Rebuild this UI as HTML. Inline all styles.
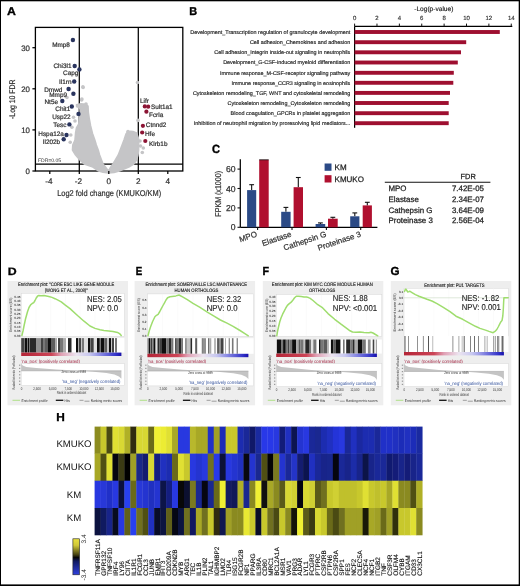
<!DOCTYPE html>
<html><head><meta charset="utf-8"><style>
html,body{margin:0;padding:0;background:#fff;}
body{width:520px;height:586px;overflow:hidden;}
svg{display:block;will-change:transform;text-rendering:geometricPrecision;}
text{font-family:"Liberation Sans", sans-serif;}
</style></head><body>
<svg xmlns="http://www.w3.org/2000/svg" width="520" height="586" viewBox="0 0 520 586">
<rect x="0" y="0" width="520" height="586" fill="#fff"/>
<text x="0" y="0" font-size="11.26" font-weight="bold" fill="#000" stroke="#000" stroke-width="0.32" transform="translate(7.07 14.72) scale(1.093 1)">A</text>
<rect x="35.4" y="27.4" width="147.4" height="143.6" fill="none" stroke="#000" stroke-width="1.3"/>
<line x1="79.30" y1="27.40" x2="79.30" y2="171.00" stroke="#000" stroke-width="1.25"/>
<line x1="138.30" y1="27.40" x2="138.30" y2="171.00" stroke="#000" stroke-width="1.25"/>
<line x1="35.40" y1="164.20" x2="182.80" y2="164.20" stroke="#000" stroke-width="1.25"/>
<path d="M76.50 104.80 L80.00 109.00 L80.40 114.00 L79.50 119.00 L78.80 124.00 L76.50 128.00 L75.60 133.00 L75.00 140.00 L72.80 145.00 L72.50 150.00 L75.60 155.00 L79.90 160.00 L84.20 164.00 L92.90 167.00 L98.70 171.00 L103.00 172.30 L108.50 173.00 L114.00 172.50 L119.20 171.00 L128.80 167.00 L133.70 164.00 L136.50 160.00 L138.00 155.00 L138.60 150.00 L138.60 145.00 L138.80 140.00 L138.00 137.00 L136.50 133.00 L133.00 131.50 L130.80 131.30 L127.50 132.00 L126.00 134.00 L125.00 137.00 L124.00 140.00 L122.10 145.00 L120.20 150.00 L118.30 155.00 L115.40 160.00 L113.00 164.00 L110.80 167.00 L109.20 170.00 L107.60 170.00 L105.40 167.00 L103.00 164.00 L101.50 160.00 L99.60 155.00 L98.20 150.00 L96.30 145.00 L94.80 140.00 L92.50 133.50 L90.60 126.00 L89.30 119.00 L88.30 112.00 L88.00 106.00 L86.00 104.30 L81.00 103.80 Z" fill="#c5c5c7" stroke="#c5c5c7" stroke-width="1.6" stroke-linejoin="round"/>
<circle cx="73.50" cy="117.30" r="1.8" fill="#c5c5c7"/>
<circle cx="75.00" cy="121.00" r="1.8" fill="#c5c5c7"/>
<circle cx="71.90" cy="127.30" r="1.8" fill="#c5c5c7"/>
<circle cx="70.20" cy="142.20" r="1.8" fill="#c5c5c7"/>
<circle cx="70.80" cy="135.00" r="1.8" fill="#c5c5c7"/>
<circle cx="137.50" cy="82.50" r="1.8" fill="#c5c5c7"/>
<circle cx="83.10" cy="87.50" r="1.8" fill="#c5c5c7"/>
<circle cx="81.60" cy="100.00" r="1.8" fill="#c5c5c7"/>
<circle cx="138.00" cy="120.40" r="1.8" fill="#c5c5c7"/>
<circle cx="140.50" cy="146.00" r="1.8" fill="#c5c5c7"/>
<circle cx="143.30" cy="148.00" r="1.8" fill="#c5c5c7"/>
<circle cx="142.30" cy="152.50" r="1.8" fill="#c5c5c7"/>
<circle cx="67.00" cy="97.50" r="1.8" fill="#c5c5c7"/>
<circle cx="81.90" cy="99.00" r="1.8" fill="#c5c5c7"/>
<circle cx="82.90" cy="86.90" r="1.8" fill="#c5c5c7"/>
<circle cx="128.00" cy="131.50" r="1.8" fill="#c5c5c7"/>
<circle cx="135.00" cy="134.00" r="1.8" fill="#c5c5c7"/>
<circle cx="77.50" cy="106.00" r="1.8" fill="#c5c5c7"/>
<circle cx="86.00" cy="104.00" r="1.8" fill="#c5c5c7"/>
<circle cx="74.00" cy="146.00" r="1.8" fill="#c5c5c7"/>
<circle cx="140.00" cy="141.00" r="1.8" fill="#c5c5c7"/>
<line x1="32.40" y1="171.00" x2="35.40" y2="171.00" stroke="#000" stroke-width="1.25"/>
<text x="30.00" y="173.84" font-size="7.9" text-anchor="end" fill="#333" font-weight="normal" stroke="#333" stroke-width="0.22">0</text>
<line x1="32.40" y1="129.90" x2="35.40" y2="129.90" stroke="#000" stroke-width="1.25"/>
<text x="30.00" y="132.74" font-size="7.9" text-anchor="end" fill="#333" font-weight="normal" stroke="#333" stroke-width="0.22">10</text>
<line x1="32.40" y1="88.80" x2="35.40" y2="88.80" stroke="#000" stroke-width="1.25"/>
<text x="30.00" y="91.64" font-size="7.9" text-anchor="end" fill="#333" font-weight="normal" stroke="#333" stroke-width="0.22">20</text>
<line x1="32.40" y1="47.70" x2="35.40" y2="47.70" stroke="#000" stroke-width="1.25"/>
<text x="30.00" y="50.54" font-size="7.9" text-anchor="end" fill="#333" font-weight="normal" stroke="#333" stroke-width="0.22">30</text>
<line x1="49.80" y1="171.00" x2="49.80" y2="174.00" stroke="#000" stroke-width="1.25"/>
<text x="49.00" y="184.35" font-size="8.2" text-anchor="middle" fill="#333" font-weight="normal" stroke="#333" stroke-width="0.22">-4</text>
<line x1="79.30" y1="171.00" x2="79.30" y2="174.00" stroke="#000" stroke-width="1.25"/>
<text x="78.50" y="184.35" font-size="8.2" text-anchor="middle" fill="#333" font-weight="normal" stroke="#333" stroke-width="0.22">-2</text>
<line x1="108.80" y1="171.00" x2="108.80" y2="174.00" stroke="#000" stroke-width="1.25"/>
<text x="108.80" y="184.35" font-size="8.2" text-anchor="middle" fill="#333" font-weight="normal" stroke="#333" stroke-width="0.22">0</text>
<line x1="138.30" y1="171.00" x2="138.30" y2="174.00" stroke="#000" stroke-width="1.25"/>
<text x="138.30" y="184.35" font-size="8.2" text-anchor="middle" fill="#333" font-weight="normal" stroke="#333" stroke-width="0.22">2</text>
<line x1="167.80" y1="171.00" x2="167.80" y2="174.00" stroke="#000" stroke-width="1.25"/>
<text x="167.80" y="184.35" font-size="8.2" text-anchor="middle" fill="#333" font-weight="normal" stroke="#333" stroke-width="0.22">4</text>
<text x="109.2" y="196.3" font-size="8.4" text-anchor="middle" fill="#333" stroke="#333" stroke-width="0.22" textLength="104" lengthAdjust="spacingAndGlyphs">Log2 fold change (KMUKO/KM)</text>
<text x="14.9" y="99.2" font-size="8.2" text-anchor="middle" fill="#333" stroke="#333" stroke-width="0.22" textLength="39.5" lengthAdjust="spacingAndGlyphs" transform="rotate(-90 14.9 99.2)">-Log 10 FDR</text>
<text x="37.9" y="162.0" font-size="5.0" fill="#333" textLength="23.3" lengthAdjust="spacingAndGlyphs">FDR=0.05</text>
<circle cx="72.90" cy="40.00" r="2.2" fill="#29345e"/>
<text x="69.90" y="46.60" font-size="6.4" text-anchor="end" fill="#333" font-weight="normal" stroke="#333" stroke-width="0.22">Mmp8</text>
<circle cx="74.70" cy="66.00" r="2.2" fill="#29345e"/>
<text x="71.50" y="67.70" font-size="6.4" text-anchor="end" fill="#333" font-weight="normal" stroke="#333" stroke-width="0.22">Chi3l1</text>
<circle cx="79.40" cy="69.40" r="2.2" fill="#29345e"/>
<text x="78.40" y="75.20" font-size="6.4" text-anchor="end" fill="#333" font-weight="normal" stroke="#333" stroke-width="0.22">Capg</text>
<circle cx="74.20" cy="81.50" r="2.2" fill="#29345e"/>
<text x="71.50" y="83.60" font-size="6.4" text-anchor="end" fill="#333" font-weight="normal" stroke="#333" stroke-width="0.22">Il1rn</text>
<circle cx="68.60" cy="89.00" r="2.2" fill="#29345e"/>
<text x="62.30" y="92.00" font-size="6.4" text-anchor="end" fill="#333" font-weight="normal" stroke="#333" stroke-width="0.22">Dmwd</text>
<circle cx="73.40" cy="93.80" r="2.2" fill="#29345e"/>
<text x="67.00" y="97.30" font-size="6.4" text-anchor="end" fill="#333" font-weight="normal" stroke="#333" stroke-width="0.22">Mmp9</text>
<circle cx="62.30" cy="101.00" r="2.2" fill="#29345e"/>
<text x="58.00" y="104.30" font-size="6.4" text-anchor="end" fill="#333" font-weight="normal" stroke="#333" stroke-width="0.22">Nt5e</text>
<circle cx="71.80" cy="106.50" r="2.2" fill="#29345e"/>
<text x="70.20" y="110.70" font-size="6.4" text-anchor="end" fill="#333" font-weight="normal" stroke="#333" stroke-width="0.22">Chit1</text>
<circle cx="78.50" cy="113.90" r="2.2" fill="#29345e"/>
<text x="70.70" y="118.80" font-size="6.4" text-anchor="end" fill="#333" font-weight="normal" stroke="#333" stroke-width="0.22">Usp22</text>
<circle cx="69.40" cy="124.40" r="2.2" fill="#29345e"/>
<text x="66.50" y="126.50" font-size="6.4" text-anchor="end" fill="#333" font-weight="normal" stroke="#333" stroke-width="0.22">Tesc</text>
<circle cx="66.50" cy="135.00" r="2.2" fill="#29345e"/>
<text x="63.90" y="135.80" font-size="6.4" text-anchor="end" fill="#333" font-weight="normal" stroke="#333" stroke-width="0.22">Hspa12a</text>
<circle cx="63.70" cy="139.30" r="2.2" fill="#29345e"/>
<text x="60.20" y="143.50" font-size="6.4" text-anchor="end" fill="#333" font-weight="normal" stroke="#333" stroke-width="0.22">Il202b</text>
<circle cx="144.80" cy="106.40" r="2.1" fill="#8c1434"/>
<circle cx="148.20" cy="106.70" r="2.1" fill="#8c1434"/>
<circle cx="146.40" cy="111.70" r="2.1" fill="#8c1434"/>
<circle cx="142.90" cy="125.80" r="2.1" fill="#8c1434"/>
<circle cx="142.20" cy="132.50" r="2.1" fill="#8c1434"/>
<circle cx="145.30" cy="141.00" r="2.1" fill="#8c1434"/>
<text x="140.00" y="102.90" font-size="6.4" text-anchor="start" fill="#333" font-weight="normal" stroke="#333" stroke-width="0.22">Lifr</text>
<text x="151.00" y="109.20" font-size="6.4" text-anchor="start" fill="#333" font-weight="normal" stroke="#333" stroke-width="0.22">Sult1a1</text>
<text x="149.00" y="117.20" font-size="6.4" text-anchor="start" fill="#333" font-weight="normal" stroke="#333" stroke-width="0.22">Fcrla</text>
<text x="145.80" y="127.30" font-size="6.4" text-anchor="start" fill="#333" font-weight="normal" stroke="#333" stroke-width="0.22">Ctnnd2</text>
<text x="145.00" y="135.50" font-size="6.4" text-anchor="start" fill="#333" font-weight="normal" stroke="#333" stroke-width="0.22">Hfe</text>
<text x="149.00" y="145.70" font-size="6.4" text-anchor="start" fill="#333" font-weight="normal" stroke="#333" stroke-width="0.22">Klrb1b</text>
<text x="0" y="0" font-size="11.26" font-weight="bold" fill="#000" stroke="#000" stroke-width="0.36" transform="translate(189.34 14.72) scale(0.969 1)">B</text>
<line x1="354.60" y1="26.40" x2="512.30" y2="26.40" stroke="#000" stroke-width="1.25"/>
<line x1="354.60" y1="26.40" x2="354.60" y2="127.80" stroke="#000" stroke-width="1.25"/>
<line x1="354.60" y1="23.60" x2="354.60" y2="26.40" stroke="#111" stroke-width="1.0"/>
<text x="354.60" y="20.36" font-size="6.0" text-anchor="middle" fill="#333" font-weight="normal" stroke="#333" stroke-width="0.15">0</text>
<line x1="376.98" y1="23.60" x2="376.98" y2="26.40" stroke="#111" stroke-width="1.0"/>
<text x="376.98" y="20.36" font-size="6.0" text-anchor="middle" fill="#333" font-weight="normal" stroke="#333" stroke-width="0.15">2</text>
<line x1="399.36" y1="23.60" x2="399.36" y2="26.40" stroke="#111" stroke-width="1.0"/>
<text x="399.36" y="20.36" font-size="6.0" text-anchor="middle" fill="#333" font-weight="normal" stroke="#333" stroke-width="0.15">4</text>
<line x1="421.74" y1="23.60" x2="421.74" y2="26.40" stroke="#111" stroke-width="1.0"/>
<text x="421.74" y="20.36" font-size="6.0" text-anchor="middle" fill="#333" font-weight="normal" stroke="#333" stroke-width="0.15">6</text>
<line x1="444.12" y1="23.60" x2="444.12" y2="26.40" stroke="#111" stroke-width="1.0"/>
<text x="444.12" y="20.36" font-size="6.0" text-anchor="middle" fill="#333" font-weight="normal" stroke="#333" stroke-width="0.15">8</text>
<line x1="466.50" y1="23.60" x2="466.50" y2="26.40" stroke="#111" stroke-width="1.0"/>
<text x="466.50" y="20.36" font-size="6.0" text-anchor="middle" fill="#333" font-weight="normal" stroke="#333" stroke-width="0.15">10</text>
<line x1="488.88" y1="23.60" x2="488.88" y2="26.40" stroke="#111" stroke-width="1.0"/>
<text x="488.88" y="20.36" font-size="6.0" text-anchor="middle" fill="#333" font-weight="normal" stroke="#333" stroke-width="0.15">12</text>
<line x1="511.26" y1="23.60" x2="511.26" y2="26.40" stroke="#111" stroke-width="1.0"/>
<text x="511.26" y="20.36" font-size="6.0" text-anchor="middle" fill="#333" font-weight="normal" stroke="#333" stroke-width="0.15">14</text>
<text x="433.80" y="11.08" font-size="6.6" text-anchor="middle" fill="#222" font-weight="normal" stroke="#222" stroke-width="0.15">-Log(p-value)</text>
<rect x="354.60" y="30.05" width="145.20" height="3.90" fill="#9e0f30"/>
<text x="350.30" y="33.96" font-size="5.45" text-anchor="end" fill="#222" font-weight="normal" stroke="#222" stroke-width="0.15">Development_Transcription regulation of granulocyte development</text>
<rect x="354.60" y="40.25" width="111.60" height="3.90" fill="#9e0f30"/>
<text x="350.30" y="44.16" font-size="5.45" text-anchor="end" fill="#222" font-weight="normal" stroke="#222" stroke-width="0.15">Cell adhesion_Chemokines and adhesion</text>
<rect x="354.60" y="50.35" width="106.40" height="3.90" fill="#9e0f30"/>
<text x="350.30" y="54.26" font-size="5.45" text-anchor="end" fill="#222" font-weight="normal" stroke="#222" stroke-width="0.15">Cell adhesion_Integrin inside-out signaling in neutrophils</text>
<rect x="354.60" y="60.55" width="103.20" height="3.90" fill="#9e0f30"/>
<text x="350.30" y="64.46" font-size="5.45" text-anchor="end" fill="#222" font-weight="normal" stroke="#222" stroke-width="0.15">Development_G-CSF-induced myeloid differentiation</text>
<rect x="354.60" y="70.85" width="99.20" height="3.90" fill="#9e0f30"/>
<text x="350.30" y="74.76" font-size="5.45" text-anchor="end" fill="#222" font-weight="normal" stroke="#222" stroke-width="0.15">Immune response_M-CSF-receptor signaling pathway</text>
<rect x="354.60" y="80.85" width="98.70" height="3.90" fill="#9e0f30"/>
<text x="350.30" y="84.76" font-size="5.45" text-anchor="end" fill="#222" font-weight="normal" stroke="#222" stroke-width="0.15">Immune response_CCR3 signaling in eosinophils</text>
<rect x="354.60" y="90.95" width="95.40" height="3.90" fill="#9e0f30"/>
<text x="350.30" y="94.86" font-size="5.45" text-anchor="end" fill="#222" font-weight="normal" stroke="#222" stroke-width="0.15">Cytoskeleton remodeling_TGF, WNT and cytoskeletal remodeling</text>
<rect x="354.60" y="101.05" width="94.10" height="3.90" fill="#9e0f30"/>
<text x="350.30" y="104.96" font-size="5.45" text-anchor="end" fill="#222" font-weight="normal" stroke="#222" stroke-width="0.15">Cytoskeleton remodeling_Cytoskeleton remodeling</text>
<rect x="354.60" y="111.25" width="94.10" height="3.90" fill="#9e0f30"/>
<text x="350.30" y="115.16" font-size="5.45" text-anchor="end" fill="#222" font-weight="normal" stroke="#222" stroke-width="0.15">Blood coagulation_GPCRs in platelet aggregation</text>
<rect x="354.60" y="121.25" width="94.10" height="3.90" fill="#9e0f30"/>
<text x="350.30" y="125.16" font-size="5.45" text-anchor="end" fill="#222" font-weight="normal" stroke="#222" stroke-width="0.15">Inhibition of neutrophil migration by proresolving lipid mediators...</text>
<text x="0" y="0" font-size="11.82" font-weight="bold" fill="#000" stroke="#000" stroke-width="0.37" transform="translate(211.92 153.32) scale(0.939 1)">C</text>
<line x1="240.30" y1="159.20" x2="240.30" y2="227.30" stroke="#000" stroke-width="1.25"/>
<line x1="240.30" y1="227.30" x2="377.40" y2="227.30" stroke="#000" stroke-width="1.25"/>
<line x1="237.50" y1="227.30" x2="240.30" y2="227.30" stroke="#111" stroke-width="1.1"/>
<text x="235.60" y="230.40" font-size="8.6" text-anchor="end" fill="#333" font-weight="normal" stroke="#333" stroke-width="0.25">0</text>
<line x1="237.50" y1="207.90" x2="240.30" y2="207.90" stroke="#111" stroke-width="1.1"/>
<text x="235.60" y="211.00" font-size="8.6" text-anchor="end" fill="#333" font-weight="normal" stroke="#333" stroke-width="0.25">20</text>
<line x1="237.50" y1="188.50" x2="240.30" y2="188.50" stroke="#111" stroke-width="1.1"/>
<text x="235.60" y="191.60" font-size="8.6" text-anchor="end" fill="#333" font-weight="normal" stroke="#333" stroke-width="0.25">40</text>
<line x1="237.50" y1="169.10" x2="240.30" y2="169.10" stroke="#111" stroke-width="1.1"/>
<text x="235.60" y="172.20" font-size="8.6" text-anchor="end" fill="#333" font-weight="normal" stroke="#333" stroke-width="0.25">60</text>
<text x="220.6" y="193.8" font-size="8.4" text-anchor="middle" fill="#333" stroke="#333" stroke-width="0.22" textLength="45.7" lengthAdjust="spacingAndGlyphs" transform="rotate(-90 220.6 193.8)">FPKM (x1000)</text>
<line x1="251.65" y1="184.70" x2="251.65" y2="190.10" stroke="#111" stroke-width="1.1"/>
<line x1="249.25" y1="184.70" x2="254.05" y2="184.70" stroke="#111" stroke-width="1.1"/>
<rect x="247.10" y="190.10" width="9.10" height="37.20" fill="#2b4a86"/>
<rect x="259.20" y="159.80" width="9.50" height="67.50" fill="#b0102f"/>
<line x1="285.90" y1="207.40" x2="285.90" y2="211.80" stroke="#111" stroke-width="1.1"/>
<line x1="283.50" y1="207.40" x2="288.30" y2="207.40" stroke="#111" stroke-width="1.1"/>
<rect x="281.20" y="211.80" width="9.40" height="15.50" fill="#2b4a86"/>
<line x1="298.30" y1="177.50" x2="298.30" y2="187.20" stroke="#111" stroke-width="1.1"/>
<line x1="295.90" y1="177.50" x2="300.70" y2="177.50" stroke="#111" stroke-width="1.1"/>
<rect x="293.60" y="187.20" width="9.40" height="40.10" fill="#b0102f"/>
<line x1="320.40" y1="222.90" x2="320.40" y2="224.00" stroke="#111" stroke-width="1.1"/>
<line x1="318.00" y1="222.90" x2="322.80" y2="222.90" stroke="#111" stroke-width="1.1"/>
<rect x="315.60" y="224.00" width="9.60" height="3.30" fill="#2b4a86"/>
<line x1="332.85" y1="217.30" x2="332.85" y2="218.70" stroke="#111" stroke-width="1.1"/>
<line x1="330.45" y1="217.30" x2="335.25" y2="217.30" stroke="#111" stroke-width="1.1"/>
<rect x="328.00" y="218.70" width="9.70" height="8.60" fill="#b0102f"/>
<line x1="354.80" y1="212.90" x2="354.80" y2="216.30" stroke="#111" stroke-width="1.1"/>
<line x1="352.40" y1="212.90" x2="357.20" y2="212.90" stroke="#111" stroke-width="1.1"/>
<rect x="350.20" y="216.30" width="9.20" height="11.00" fill="#2b4a86"/>
<line x1="367.30" y1="202.30" x2="367.30" y2="205.40" stroke="#111" stroke-width="1.1"/>
<line x1="364.90" y1="202.30" x2="369.70" y2="202.30" stroke="#111" stroke-width="1.1"/>
<rect x="362.70" y="205.40" width="9.20" height="21.90" fill="#b0102f"/>
<line x1="259.20" y1="159.80" x2="268.70" y2="159.80" stroke="#111" stroke-width="0.8"/>
<line x1="257.60" y1="227.30" x2="257.60" y2="230.10" stroke="#111" stroke-width="1.1"/>
<line x1="292.00" y1="227.30" x2="292.00" y2="230.10" stroke="#111" stroke-width="1.1"/>
<line x1="326.40" y1="227.30" x2="326.40" y2="230.10" stroke="#111" stroke-width="1.1"/>
<line x1="360.70" y1="227.30" x2="360.70" y2="230.10" stroke="#111" stroke-width="1.1"/>
<text x="257.60" y="236.4" font-size="8.0" text-anchor="end" fill="#333" stroke="#333" stroke-width="0.22" transform="rotate(-18.5 257.60 236.4)">MPO</text>
<text x="292.00" y="236.4" font-size="8.0" text-anchor="end" fill="#333" stroke="#333" stroke-width="0.22" transform="rotate(-18.5 292.00 236.4)">Elastase</text>
<text x="326.80" y="236.4" font-size="8.0" text-anchor="end" fill="#333" stroke="#333" stroke-width="0.22" transform="rotate(-18.5 326.80 236.4)">Cathepsin G</text>
<text x="361.40" y="236.4" font-size="8.0" text-anchor="end" fill="#333" stroke="#333" stroke-width="0.22" transform="rotate(-18.5 361.40 236.4)">Proteinase 3</text>
<rect x="324.60" y="163.50" width="6.90" height="7.30" fill="#2b4a86"/>
<rect x="324.60" y="175.20" width="6.90" height="7.30" fill="#b0102f"/>
<text x="334.60" y="170.18" font-size="8.0" text-anchor="start" fill="#222" font-weight="normal" stroke="#222" stroke-width="0.25">KM</text>
<text x="334.60" y="181.58" font-size="8.0" text-anchor="start" fill="#222" font-weight="normal" stroke="#222" stroke-width="0.25">KMUKO</text>
<text x="468.20" y="178.86" font-size="7.4" text-anchor="middle" fill="#222" font-weight="normal" stroke="#222" stroke-width="0.25">FDR</text>
<line x1="384.80" y1="182.20" x2="490.40" y2="182.20" stroke="#111" stroke-width="1.1"/>
<text x="388.50" y="191.24" font-size="7.9" text-anchor="start" fill="#222" font-weight="normal" stroke="#222" stroke-width="0.25">MPO</text>
<text x="484.00" y="191.24" font-size="7.9" text-anchor="end" fill="#222" font-weight="normal" stroke="#222" stroke-width="0.25">7.42E-05</text>
<text x="388.50" y="201.84" font-size="7.9" text-anchor="start" fill="#222" font-weight="normal" stroke="#222" stroke-width="0.25">Elastase</text>
<text x="484.00" y="201.84" font-size="7.9" text-anchor="end" fill="#222" font-weight="normal" stroke="#222" stroke-width="0.25">2.34E-07</text>
<text x="388.50" y="212.64" font-size="7.9" text-anchor="start" fill="#222" font-weight="normal" stroke="#222" stroke-width="0.25">Cathepsin G</text>
<text x="484.00" y="212.64" font-size="7.9" text-anchor="end" fill="#222" font-weight="normal" stroke="#222" stroke-width="0.25">3.64E-09</text>
<text x="388.50" y="222.74" font-size="7.9" text-anchor="start" fill="#222" font-weight="normal" stroke="#222" stroke-width="0.25">Proteinase 3</text>
<text x="484.00" y="222.74" font-size="7.9" text-anchor="end" fill="#222" font-weight="normal" stroke="#222" stroke-width="0.25">2.56E-04</text>
<text x="0" y="0" font-size="10.68" font-weight="bold" fill="#000" stroke="#000" stroke-width="0.30" transform="translate(7.75 275.32) scale(1.155 1)">D</text>
<rect x="7.50" y="281.00" width="120.50" height="124.30" fill="#eeeeee"/>
<text x="66.20" y="286.20" font-size="5.0" text-anchor="middle" fill="#111" font-weight="normal" textLength="96.30" lengthAdjust="spacingAndGlyphs" font-family="'Liberation Serif', serif" stroke="#111" stroke-width="0.12">Enrichment plot: "CORE ESC LIKE GENE MODULE</text>
<text x="66.20" y="291.80" font-size="5.0" text-anchor="middle" fill="#111" font-weight="normal" textLength="43.10" lengthAdjust="spacingAndGlyphs" font-family="'Liberation Serif', serif" stroke="#111" stroke-width="0.12">(WONG ET AL., 2008)"</text>
<rect x="21.20" y="293.30" width="103.20" height="43.00" fill="#ffffff"/>
<rect x="21.20" y="293.30" width="103.20" height="43.00" fill="none" stroke="#d8d8d8" stroke-width="0.5"/>
<line x1="35.94" y1="293.30" x2="35.94" y2="336.30" stroke="#f4f4f4" stroke-width="0.4"/>
<line x1="50.69" y1="293.30" x2="50.69" y2="336.30" stroke="#f4f4f4" stroke-width="0.4"/>
<line x1="65.43" y1="293.30" x2="65.43" y2="336.30" stroke="#f4f4f4" stroke-width="0.4"/>
<line x1="80.17" y1="293.30" x2="80.17" y2="336.30" stroke="#f4f4f4" stroke-width="0.4"/>
<line x1="94.91" y1="293.30" x2="94.91" y2="336.30" stroke="#f4f4f4" stroke-width="0.4"/>
<line x1="109.66" y1="293.30" x2="109.66" y2="336.30" stroke="#f4f4f4" stroke-width="0.4"/>
<text x="20.40" y="297.62" font-size="3.1" text-anchor="end" fill="#3a3a3a" font-weight="bold">0.45</text>
<text x="20.40" y="301.95" font-size="3.1" text-anchor="end" fill="#3a3a3a" font-weight="bold">0.40</text>
<text x="20.40" y="306.28" font-size="3.1" text-anchor="end" fill="#3a3a3a" font-weight="bold">0.35</text>
<text x="20.40" y="310.62" font-size="3.1" text-anchor="end" fill="#3a3a3a" font-weight="bold">0.30</text>
<text x="20.40" y="314.95" font-size="3.1" text-anchor="end" fill="#3a3a3a" font-weight="bold">0.25</text>
<text x="20.40" y="319.28" font-size="3.1" text-anchor="end" fill="#3a3a3a" font-weight="bold">0.20</text>
<text x="20.40" y="323.62" font-size="3.1" text-anchor="end" fill="#3a3a3a" font-weight="bold">0.15</text>
<text x="20.40" y="327.95" font-size="3.1" text-anchor="end" fill="#3a3a3a" font-weight="bold">0.10</text>
<text x="20.40" y="332.28" font-size="3.1" text-anchor="end" fill="#3a3a3a" font-weight="bold">0.05</text>
<text x="20.40" y="336.62" font-size="3.1" text-anchor="end" fill="#3a3a3a" font-weight="bold">0.00</text>
<text x="11.10" y="316.17" font-size="3.8" text-anchor="middle" fill="#333" font-weight="normal" textLength="34.40" lengthAdjust="spacingAndGlyphs" transform="rotate(-90 11.10 314.80)">Enrichment score (ES)</text>
<path d="M21.90 335.50 L23.00 331.00 L24.00 326.00 L25.50 319.00 L27.50 311.75 L29.00 307.50 L30.60 304.90 L32.20 303.50 L33.75 302.60 L35.00 300.50 L36.25 298.00 L37.50 296.20 L38.75 295.40 L41.00 295.80 L44.00 295.60 L48.75 296.50 L52.00 297.40 L55.00 298.70 L58.00 300.20 L61.25 301.90 L65.00 304.90 L70.00 308.60 L77.50 315.50 L84.00 321.20 L90.00 326.00 L95.00 328.40 L100.00 329.80 L104.00 330.40 L108.75 331.00 L113.00 331.60 L117.50 332.40 L119.50 333.60 L121.25 335.50" fill="none" stroke="#9fdd6e" stroke-width="1.5" stroke-linejoin="round" stroke-linecap="round"/>
<text x="86.90" y="301.66" font-size="8.5" text-anchor="start" fill="#262626" font-weight="normal" textLength="35.00" lengthAdjust="spacingAndGlyphs" stroke="#262626" stroke-width="0.15">NES: 2.05</text>
<text x="86.90" y="311.06" font-size="8.5" text-anchor="start" fill="#262626" font-weight="normal" textLength="31.20" lengthAdjust="spacingAndGlyphs" stroke="#262626" stroke-width="0.15">NPV: 0.0</text>
<rect x="21.20" y="338.10" width="103.20" height="14.50" fill="#ffffff"/>
<rect x="21.20" y="338.10" width="2.80" height="14.50" fill="rgb(67,67,67)"/>
<rect x="24.00" y="338.10" width="1.00" height="14.50" fill="rgb(119,119,119)"/>
<rect x="25.00" y="338.10" width="2.00" height="14.50" fill="rgb(15,15,15)"/>
<rect x="27.00" y="338.10" width="1.00" height="14.50" fill="rgb(119,119,119)"/>
<rect x="28.00" y="338.10" width="1.00" height="14.50" fill="rgb(15,15,15)"/>
<rect x="29.00" y="338.10" width="1.00" height="14.50" fill="rgb(119,119,119)"/>
<rect x="30.00" y="338.10" width="6.50" height="14.50" fill="rgb(41,41,41)"/>
<rect x="36.50" y="338.10" width="4.50" height="14.50" fill="rgb(145,145,145)"/>
<rect x="41.00" y="338.10" width="2.00" height="14.50" fill="rgb(67,67,67)"/>
<rect x="43.00" y="338.10" width="2.00" height="14.50" fill="rgb(119,119,119)"/>
<rect x="45.00" y="338.10" width="3.00" height="14.50" fill="rgb(93,93,93)"/>
<rect x="48.00" y="338.10" width="3.00" height="14.50" fill="rgb(15,15,15)"/>
<rect x="51.00" y="338.10" width="4.00" height="14.50" fill="rgb(93,93,93)"/>
<rect x="55.00" y="338.10" width="2.00" height="14.50" fill="rgb(171,171,171)"/>
<rect x="58.00" y="338.10" width="2.00" height="14.50" fill="rgb(67,67,67)"/>
<rect x="60.00" y="338.10" width="3.00" height="14.50" fill="rgb(119,119,119)"/>
<rect x="63.00" y="338.10" width="3.00" height="14.50" fill="rgb(171,171,171)"/>
<rect x="68.00" y="338.10" width="3.50" height="14.50" fill="rgb(41,41,41)"/>
<rect x="76.00" y="338.10" width="2.00" height="14.50" fill="rgb(15,15,15)"/>
<rect x="78.00" y="338.10" width="1.00" height="14.50" fill="rgb(171,171,171)"/>
<rect x="79.00" y="338.10" width="2.00" height="14.50" fill="rgb(67,67,67)"/>
<rect x="81.00" y="338.10" width="1.00" height="14.50" fill="rgb(197,197,197)"/>
<rect x="82.00" y="338.10" width="2.00" height="14.50" fill="rgb(119,119,119)"/>
<rect x="84.00" y="338.10" width="4.00" height="14.50" fill="rgb(223,223,223)"/>
<rect x="88.00" y="338.10" width="2.00" height="14.50" fill="rgb(15,15,15)"/>
<rect x="90.00" y="338.10" width="1.00" height="14.50" fill="rgb(119,119,119)"/>
<rect x="91.00" y="338.10" width="2.00" height="14.50" fill="rgb(67,67,67)"/>
<rect x="93.00" y="338.10" width="1.00" height="14.50" fill="rgb(119,119,119)"/>
<rect x="94.00" y="338.10" width="3.00" height="14.50" fill="rgb(223,223,223)"/>
<rect x="97.00" y="338.10" width="2.00" height="14.50" fill="rgb(15,15,15)"/>
<rect x="99.00" y="338.10" width="1.00" height="14.50" fill="rgb(67,67,67)"/>
<rect x="100.00" y="338.10" width="1.00" height="14.50" fill="rgb(119,119,119)"/>
<rect x="101.00" y="338.10" width="3.00" height="14.50" fill="rgb(15,15,15)"/>
<rect x="104.00" y="338.10" width="1.00" height="14.50" fill="rgb(119,119,119)"/>
<rect x="105.00" y="338.10" width="2.00" height="14.50" fill="rgb(93,93,93)"/>
<rect x="107.00" y="338.10" width="2.00" height="14.50" fill="rgb(197,197,197)"/>
<rect x="109.00" y="338.10" width="2.00" height="14.50" fill="rgb(15,15,15)"/>
<rect x="111.00" y="338.10" width="1.00" height="14.50" fill="rgb(197,197,197)"/>
<rect x="112.00" y="338.10" width="2.00" height="14.50" fill="rgb(67,67,67)"/>
<rect x="115.00" y="338.10" width="2.00" height="14.50" fill="rgb(119,119,119)"/>
<defs><linearGradient id="gD" x1="0" x2="1" y1="0" y2="0"><stop offset="0" stop-color="#b42436"/><stop offset="0.30" stop-color="#cc4456"/><stop offset="0.40" stop-color="#e0a0b4"/><stop offset="0.55" stop-color="#ece4f0"/><stop offset="0.68" stop-color="#c8c8f0"/><stop offset="0.80" stop-color="#8484e2"/><stop offset="0.95" stop-color="#3030c8"/><stop offset="1" stop-color="#1810a8"/></linearGradient></defs>
<rect x="21.20" y="352.60" width="100.20" height="3.40" fill="url(#gD)"/>
<text x="21.50" y="362.69" font-size="4.7" text-anchor="start" fill="#a01c3a" font-weight="normal" textLength="58.50" lengthAdjust="spacingAndGlyphs">'na_pos' (positively correlated)</text>
<rect x="21.20" y="363.60" width="103.20" height="21.80" fill="#ffffff"/>
<rect x="21.20" y="363.60" width="103.20" height="21.80" fill="none" stroke="#d8d8d8" stroke-width="0.5"/>
<path d="M21.20 370.80 L21.20 363.70 L22.70 365.60 L26.20 367.00 L36.20 368.10 L56.27 369.40 L71.30 370.30 L79.82 370.80 L93.34 371.80 L106.37 373.10 L114.39 374.60 L118.90 376.40 L120.90 378.30 L121.40 378.80 L121.40 370.80 Z" fill="#c4c4c4"/>
<line x1="21.20" y1="370.80" x2="121.40" y2="370.80" stroke="#999" stroke-width="0.5"/>
<text x="73.81" y="373.47" font-size="3.8" text-anchor="middle" fill="#333" font-weight="normal" textLength="24.50" lengthAdjust="spacingAndGlyphs">Zero cross at 9989</text>
<text x="120.40" y="383.09" font-size="4.7" text-anchor="end" fill="#2a4a98" font-weight="normal" textLength="58.50" lengthAdjust="spacingAndGlyphs">'na_neg' (negatively correlated)</text>
<rect x="19.00" y="364.60" width="1.30" height="1.20" fill="#999"/>
<rect x="19.00" y="367.80" width="1.30" height="1.20" fill="#999"/>
<rect x="19.00" y="371.00" width="1.30" height="1.20" fill="#999"/>
<rect x="19.00" y="374.20" width="1.30" height="1.20" fill="#999"/>
<rect x="19.00" y="377.40" width="1.30" height="1.20" fill="#999"/>
<rect x="19.00" y="380.60" width="1.30" height="1.20" fill="#999"/>
<rect x="19.00" y="383.80" width="1.30" height="1.20" fill="#999"/>
<text x="13.90" y="373.87" font-size="3.8" text-anchor="middle" fill="#333" font-weight="normal" textLength="34.00" lengthAdjust="spacingAndGlyphs" transform="rotate(-90 13.90 372.50)">Ranked list metric (PreRanked)</text>
<text x="21.50" y="389.84" font-size="4.0" text-anchor="middle" fill="#333" font-weight="normal" textLength="1.60" lengthAdjust="spacingAndGlyphs">0</text>
<text x="37.08" y="389.84" font-size="4.0" text-anchor="middle" fill="#333" font-weight="normal" textLength="7.70" lengthAdjust="spacingAndGlyphs">2,500</text>
<text x="52.65" y="389.84" font-size="4.0" text-anchor="middle" fill="#333" font-weight="normal" textLength="7.70" lengthAdjust="spacingAndGlyphs">5,000</text>
<text x="68.23" y="389.84" font-size="4.0" text-anchor="middle" fill="#333" font-weight="normal" textLength="7.70" lengthAdjust="spacingAndGlyphs">7,500</text>
<text x="83.80" y="389.84" font-size="4.0" text-anchor="middle" fill="#333" font-weight="normal" textLength="9.20" lengthAdjust="spacingAndGlyphs">10,000</text>
<text x="99.38" y="389.84" font-size="4.0" text-anchor="middle" fill="#333" font-weight="normal" textLength="9.20" lengthAdjust="spacingAndGlyphs">12,500</text>
<text x="114.95" y="389.84" font-size="4.0" text-anchor="middle" fill="#333" font-weight="normal" textLength="9.20" lengthAdjust="spacingAndGlyphs">15,000</text>
<text x="71.60" y="394.38" font-size="4.4" text-anchor="middle" fill="#333" font-weight="normal" textLength="29.50" lengthAdjust="spacingAndGlyphs">Rank in ordered dataset</text>
<line x1="12.50" y1="400.30" x2="20.00" y2="400.30" stroke="#9fdd6e" stroke-width="0.8"/>
<text x="21.50" y="401.70" font-size="3.9" text-anchor="start" fill="#333" font-weight="normal" textLength="26.20" lengthAdjust="spacingAndGlyphs">Enrichment profile</text>
<line x1="55.80" y1="400.30" x2="63.30" y2="400.30" stroke="#111" stroke-width="1.3"/>
<text x="64.40" y="401.70" font-size="3.9" text-anchor="start" fill="#333" font-weight="normal" textLength="5.50" lengthAdjust="spacingAndGlyphs">Hits</text>
<line x1="79.50" y1="400.30" x2="83.50" y2="400.30" stroke="#666" stroke-width="0.6"/>
<line x1="84.50" y1="401.20" x2="89.50" y2="401.20" stroke="#666" stroke-width="0.6"/>
<text x="90.70" y="401.70" font-size="3.9" text-anchor="start" fill="#333" font-weight="normal" textLength="31.50" lengthAdjust="spacingAndGlyphs">Ranking metric scores</text>
<text x="0" y="0" font-size="11.56" font-weight="bold" fill="#000" stroke="#000" stroke-width="0.42" transform="translate(135.82 275.22) scale(0.842 1)">E</text>
<rect x="134.60" y="281.00" width="120.50" height="124.30" fill="#eeeeee"/>
<text x="196.30" y="286.20" font-size="5.0" text-anchor="middle" fill="#111" font-weight="normal" textLength="101.60" lengthAdjust="spacingAndGlyphs" font-family="'Liberation Serif', serif" stroke="#111" stroke-width="0.12">Enrichment plot: SOMERVAILLE LSC MAINTENANCE</text>
<text x="196.50" y="291.80" font-size="5.0" text-anchor="middle" fill="#111" font-weight="normal" textLength="43.90" lengthAdjust="spacingAndGlyphs" font-family="'Liberation Serif', serif" stroke="#111" stroke-width="0.12">HUMAN ORTHOLOGS</text>
<rect x="147.40" y="293.90" width="106.20" height="42.40" fill="#ffffff"/>
<rect x="147.40" y="293.90" width="106.20" height="42.40" fill="none" stroke="#d8d8d8" stroke-width="0.5"/>
<line x1="162.57" y1="293.90" x2="162.57" y2="336.30" stroke="#f4f4f4" stroke-width="0.4"/>
<line x1="177.74" y1="293.90" x2="177.74" y2="336.30" stroke="#f4f4f4" stroke-width="0.4"/>
<line x1="192.91" y1="293.90" x2="192.91" y2="336.30" stroke="#f4f4f4" stroke-width="0.4"/>
<line x1="208.09" y1="293.90" x2="208.09" y2="336.30" stroke="#f4f4f4" stroke-width="0.4"/>
<line x1="223.26" y1="293.90" x2="223.26" y2="336.30" stroke="#f4f4f4" stroke-width="0.4"/>
<line x1="238.43" y1="293.90" x2="238.43" y2="336.30" stroke="#f4f4f4" stroke-width="0.4"/>
<text x="146.60" y="301.42" font-size="3.1" text-anchor="end" fill="#3a3a3a" font-weight="bold">0.5</text>
<text x="146.60" y="308.52" font-size="3.1" text-anchor="end" fill="#3a3a3a" font-weight="bold">0.4</text>
<text x="146.60" y="315.62" font-size="3.1" text-anchor="end" fill="#3a3a3a" font-weight="bold">0.3</text>
<text x="146.60" y="322.72" font-size="3.1" text-anchor="end" fill="#3a3a3a" font-weight="bold">0.2</text>
<text x="146.60" y="329.82" font-size="3.1" text-anchor="end" fill="#3a3a3a" font-weight="bold">0.1</text>
<text x="146.60" y="336.92" font-size="3.1" text-anchor="end" fill="#3a3a3a" font-weight="bold">0.0</text>
<text x="138.20" y="316.47" font-size="3.8" text-anchor="middle" fill="#333" font-weight="normal" textLength="33.92" lengthAdjust="spacingAndGlyphs" transform="rotate(-90 138.20 315.10)">Enrichment score (ES)</text>
<path d="M148.00 335.80 L149.20 331.00 L150.50 327.00 L152.50 321.80 L154.90 316.80 L156.50 315.30 L158.10 314.30 L159.80 311.50 L161.30 308.60 L163.00 305.50 L164.50 302.80 L166.00 300.00 L167.60 297.80 L170.00 296.80 L172.10 296.50 L175.90 295.90 L179.00 295.00 L183.00 297.20 L187.30 299.70 L193.00 303.30 L200.00 307.30 L207.70 312.40 L214.00 316.20 L220.40 320.00 L227.00 323.20 L233.10 326.30 L240.00 330.50 L244.50 333.30 L248.30 335.80" fill="none" stroke="#9fdd6e" stroke-width="1.5" stroke-linejoin="round" stroke-linecap="round"/>
<text x="206.70" y="302.06" font-size="8.5" text-anchor="start" fill="#262626" font-weight="normal" textLength="34.60" lengthAdjust="spacingAndGlyphs" stroke="#262626" stroke-width="0.15">NES: 2.32</text>
<text x="206.70" y="311.46" font-size="8.5" text-anchor="start" fill="#262626" font-weight="normal" textLength="30.80" lengthAdjust="spacingAndGlyphs" stroke="#262626" stroke-width="0.15">NPV: 0.0</text>
<rect x="147.40" y="338.20" width="106.20" height="15.60" fill="#ffffff"/>
<rect x="147.30" y="338.20" width="1.40" height="15.60" fill="rgb(145,145,145)"/>
<rect x="148.70" y="338.20" width="1.40" height="15.60" fill="rgb(15,15,15)"/>
<rect x="150.10" y="338.20" width="1.00" height="15.60" fill="rgb(119,119,119)"/>
<rect x="151.10" y="338.20" width="1.30" height="15.60" fill="rgb(41,41,41)"/>
<rect x="152.40" y="338.20" width="1.10" height="15.60" fill="rgb(119,119,119)"/>
<rect x="153.50" y="338.20" width="2.10" height="15.60" fill="rgb(15,15,15)"/>
<rect x="155.60" y="338.20" width="1.90" height="15.60" fill="rgb(223,223,223)"/>
<rect x="157.50" y="338.20" width="1.80" height="15.60" fill="rgb(41,41,41)"/>
<rect x="159.30" y="338.20" width="2.70" height="15.60" fill="rgb(67,67,67)"/>
<rect x="162.00" y="338.20" width="4.20" height="15.60" fill="rgb(15,15,15)"/>
<rect x="166.20" y="338.20" width="2.60" height="15.60" fill="rgb(119,119,119)"/>
<rect x="168.80" y="338.20" width="2.70" height="15.60" fill="rgb(41,41,41)"/>
<rect x="171.50" y="338.20" width="2.10" height="15.60" fill="rgb(119,119,119)"/>
<rect x="173.60" y="338.20" width="1.60" height="15.60" fill="rgb(250,250,250)"/>
<rect x="175.20" y="338.20" width="1.50" height="15.60" fill="rgb(41,41,41)"/>
<rect x="176.70" y="338.20" width="2.20" height="15.60" fill="rgb(119,119,119)"/>
<rect x="178.90" y="338.20" width="2.60" height="15.60" fill="rgb(41,41,41)"/>
<rect x="181.50" y="338.20" width="1.50" height="15.60" fill="rgb(119,119,119)"/>
<rect x="185.20" y="338.20" width="1.60" height="15.60" fill="rgb(119,119,119)"/>
<rect x="186.80" y="338.20" width="3.70" height="15.60" fill="rgb(197,197,197)"/>
<rect x="190.50" y="338.20" width="1.60" height="15.60" fill="rgb(41,41,41)"/>
<rect x="195.30" y="338.20" width="1.60" height="15.60" fill="rgb(67,67,67)"/>
<rect x="196.90" y="338.20" width="0.60" height="15.60" fill="rgb(197,197,197)"/>
<rect x="201.80" y="338.20" width="1.00" height="15.60" fill="rgb(93,93,93)"/>
<rect x="202.80" y="338.20" width="3.20" height="15.60" fill="rgb(145,145,145)"/>
<rect x="208.10" y="338.20" width="1.10" height="15.60" fill="rgb(93,93,93)"/>
<rect x="209.20" y="338.20" width="2.10" height="15.60" fill="rgb(171,171,171)"/>
<rect x="214.50" y="338.20" width="1.00" height="15.60" fill="rgb(119,119,119)"/>
<rect x="217.10" y="338.20" width="1.90" height="15.60" fill="rgb(93,93,93)"/>
<rect x="219.00" y="338.20" width="2.00" height="15.60" fill="rgb(145,145,145)"/>
<rect x="221.00" y="338.20" width="2.50" height="15.60" fill="rgb(67,67,67)"/>
<rect x="225.00" y="338.20" width="1.00" height="15.60" fill="rgb(171,171,171)"/>
<rect x="228.70" y="338.20" width="1.10" height="15.60" fill="rgb(119,119,119)"/>
<rect x="231.90" y="338.20" width="1.60" height="15.60" fill="rgb(119,119,119)"/>
<rect x="236.70" y="338.20" width="1.00" height="15.60" fill="rgb(93,93,93)"/>
<defs><linearGradient id="gE" x1="0" x2="1" y1="0" y2="0"><stop offset="0" stop-color="#b42436"/><stop offset="0.30" stop-color="#cc4456"/><stop offset="0.40" stop-color="#e0a0b4"/><stop offset="0.55" stop-color="#ece4f0"/><stop offset="0.68" stop-color="#c8c8f0"/><stop offset="0.80" stop-color="#8484e2"/><stop offset="0.95" stop-color="#3030c8"/><stop offset="1" stop-color="#1810a8"/></linearGradient></defs>
<rect x="147.40" y="353.80" width="101.00" height="3.40" fill="url(#gE)"/>
<text x="147.70" y="362.69" font-size="4.7" text-anchor="start" fill="#a01c3a" font-weight="normal" textLength="58.50" lengthAdjust="spacingAndGlyphs">'na_pos' (positively correlated)</text>
<rect x="147.40" y="363.60" width="106.20" height="22.30" fill="#ffffff"/>
<rect x="147.40" y="363.60" width="106.20" height="22.30" fill="none" stroke="#d8d8d8" stroke-width="0.5"/>
<path d="M147.40 371.05 L147.40 363.70 L148.90 365.60 L152.40 367.00 L162.40 368.10 L182.75 369.65 L197.90 370.55 L206.49 371.05 L220.12 372.05 L233.25 373.35 L241.33 374.85 L245.88 376.65 L247.90 378.55 L248.40 379.35 L248.40 371.05 Z" fill="#c4c4c4"/>
<line x1="147.40" y1="371.05" x2="248.40" y2="371.05" stroke="#999" stroke-width="0.5"/>
<text x="200.43" y="373.72" font-size="3.8" text-anchor="middle" fill="#333" font-weight="normal" textLength="24.50" lengthAdjust="spacingAndGlyphs">Zero cross at 9989</text>
<text x="247.40" y="383.84" font-size="4.7" text-anchor="end" fill="#2a4a98" font-weight="normal" textLength="58.50" lengthAdjust="spacingAndGlyphs">'na_neg' (negatively correlated)</text>
<rect x="145.20" y="364.60" width="1.30" height="1.20" fill="#999"/>
<rect x="145.20" y="367.80" width="1.30" height="1.20" fill="#999"/>
<rect x="145.20" y="371.00" width="1.30" height="1.20" fill="#999"/>
<rect x="145.20" y="374.20" width="1.30" height="1.20" fill="#999"/>
<rect x="145.20" y="377.40" width="1.30" height="1.20" fill="#999"/>
<rect x="145.20" y="380.60" width="1.30" height="1.20" fill="#999"/>
<rect x="145.20" y="383.80" width="1.30" height="1.20" fill="#999"/>
<text x="141.00" y="373.87" font-size="3.8" text-anchor="middle" fill="#333" font-weight="normal" textLength="34.00" lengthAdjust="spacingAndGlyphs" transform="rotate(-90 141.00 372.50)">Ranked list metric (PreRanked)</text>
<text x="147.70" y="390.34" font-size="4.0" text-anchor="middle" fill="#333" font-weight="normal" textLength="1.60" lengthAdjust="spacingAndGlyphs">0</text>
<text x="163.40" y="390.34" font-size="4.0" text-anchor="middle" fill="#333" font-weight="normal" textLength="7.70" lengthAdjust="spacingAndGlyphs">2,500</text>
<text x="179.10" y="390.34" font-size="4.0" text-anchor="middle" fill="#333" font-weight="normal" textLength="7.70" lengthAdjust="spacingAndGlyphs">5,000</text>
<text x="194.80" y="390.34" font-size="4.0" text-anchor="middle" fill="#333" font-weight="normal" textLength="7.70" lengthAdjust="spacingAndGlyphs">7,500</text>
<text x="210.50" y="390.34" font-size="4.0" text-anchor="middle" fill="#333" font-weight="normal" textLength="9.20" lengthAdjust="spacingAndGlyphs">10,000</text>
<text x="226.20" y="390.34" font-size="4.0" text-anchor="middle" fill="#333" font-weight="normal" textLength="9.20" lengthAdjust="spacingAndGlyphs">12,500</text>
<text x="241.90" y="390.34" font-size="4.0" text-anchor="middle" fill="#333" font-weight="normal" textLength="9.20" lengthAdjust="spacingAndGlyphs">15,000</text>
<text x="198.20" y="394.88" font-size="4.4" text-anchor="middle" fill="#333" font-weight="normal" textLength="29.50" lengthAdjust="spacingAndGlyphs">Rank in ordered dataset</text>
<line x1="139.60" y1="400.30" x2="147.10" y2="400.30" stroke="#9fdd6e" stroke-width="0.8"/>
<text x="148.60" y="401.70" font-size="3.9" text-anchor="start" fill="#333" font-weight="normal" textLength="26.20" lengthAdjust="spacingAndGlyphs">Enrichment profile</text>
<line x1="182.90" y1="400.30" x2="190.40" y2="400.30" stroke="#111" stroke-width="1.3"/>
<text x="191.50" y="401.70" font-size="3.9" text-anchor="start" fill="#333" font-weight="normal" textLength="5.50" lengthAdjust="spacingAndGlyphs">Hits</text>
<line x1="206.60" y1="400.30" x2="210.60" y2="400.30" stroke="#666" stroke-width="0.6"/>
<line x1="211.60" y1="401.20" x2="216.60" y2="401.20" stroke="#666" stroke-width="0.6"/>
<text x="217.80" y="401.70" font-size="3.9" text-anchor="start" fill="#333" font-weight="normal" textLength="31.50" lengthAdjust="spacingAndGlyphs">Ranking metric scores</text>
<text x="0" y="0" font-size="11.56" font-weight="bold" fill="#000" stroke="#000" stroke-width="0.38" transform="translate(262.55 275.02) scale(0.932 1)">F</text>
<rect x="262.80" y="281.00" width="120.50" height="124.30" fill="#eeeeee"/>
<text x="322.30" y="286.20" font-size="5.0" text-anchor="middle" fill="#111" font-weight="normal" textLength="100.90" lengthAdjust="spacingAndGlyphs" font-family="'Liberation Serif', serif" stroke="#111" stroke-width="0.12">Enrichment plot: KIM MYC CORE MODULE HUMAN</text>
<text x="322.20" y="291.90" font-size="5.0" text-anchor="middle" fill="#111" font-weight="normal" textLength="26.30" lengthAdjust="spacingAndGlyphs" font-family="'Liberation Serif', serif" stroke="#111" stroke-width="0.12">ORTHOLOGS</text>
<rect x="276.20" y="294.50" width="105.60" height="41.80" fill="#ffffff"/>
<rect x="276.20" y="294.50" width="105.60" height="41.80" fill="none" stroke="#d8d8d8" stroke-width="0.5"/>
<line x1="291.29" y1="294.50" x2="291.29" y2="336.30" stroke="#f4f4f4" stroke-width="0.4"/>
<line x1="306.37" y1="294.50" x2="306.37" y2="336.30" stroke="#f4f4f4" stroke-width="0.4"/>
<line x1="321.46" y1="294.50" x2="321.46" y2="336.30" stroke="#f4f4f4" stroke-width="0.4"/>
<line x1="336.54" y1="294.50" x2="336.54" y2="336.30" stroke="#f4f4f4" stroke-width="0.4"/>
<line x1="351.63" y1="294.50" x2="351.63" y2="336.30" stroke="#f4f4f4" stroke-width="0.4"/>
<line x1="366.71" y1="294.50" x2="366.71" y2="336.30" stroke="#f4f4f4" stroke-width="0.4"/>
<text x="275.40" y="297.62" font-size="3.1" text-anchor="end" fill="#3a3a3a" font-weight="bold">0.40</text>
<text x="275.40" y="302.53" font-size="3.1" text-anchor="end" fill="#3a3a3a" font-weight="bold">0.35</text>
<text x="275.40" y="307.44" font-size="3.1" text-anchor="end" fill="#3a3a3a" font-weight="bold">0.30</text>
<text x="275.40" y="312.35" font-size="3.1" text-anchor="end" fill="#3a3a3a" font-weight="bold">0.25</text>
<text x="275.40" y="317.27" font-size="3.1" text-anchor="end" fill="#3a3a3a" font-weight="bold">0.20</text>
<text x="275.40" y="322.18" font-size="3.1" text-anchor="end" fill="#3a3a3a" font-weight="bold">0.15</text>
<text x="275.40" y="327.09" font-size="3.1" text-anchor="end" fill="#3a3a3a" font-weight="bold">0.10</text>
<text x="275.40" y="332.00" font-size="3.1" text-anchor="end" fill="#3a3a3a" font-weight="bold">0.05</text>
<text x="275.40" y="336.92" font-size="3.1" text-anchor="end" fill="#3a3a3a" font-weight="bold">0.00</text>
<text x="266.40" y="316.77" font-size="3.8" text-anchor="middle" fill="#333" font-weight="normal" textLength="33.44" lengthAdjust="spacingAndGlyphs" transform="rotate(-90 266.40 315.40)">Enrichment score (ES)</text>
<path d="M276.80 335.80 L277.60 331.00 L278.50 327.00 L279.70 322.00 L281.00 318.00 L282.60 314.20 L284.20 311.10 L285.80 308.00 L287.40 305.40 L289.30 303.60 L291.20 302.20 L293.00 300.00 L294.60 297.80 L296.30 296.20 L298.50 296.30 L301.30 296.50 L304.00 296.90 L306.40 297.10 L308.50 297.60 L310.20 298.40 L313.00 300.50 L317.80 304.70 L322.00 307.30 L328.00 313.60 L334.70 319.30 L341.00 324.20 L347.40 328.90 L350.00 330.80 L352.50 332.00 L356.00 332.20 L360.00 332.00 L364.00 332.40 L369.00 332.70 L370.90 332.30 L373.00 333.00 L375.50 334.50 L377.80 335.80" fill="none" stroke="#9fdd6e" stroke-width="1.5" stroke-linejoin="round" stroke-linecap="round"/>
<text x="332.80" y="301.46" font-size="8.5" text-anchor="start" fill="#262626" font-weight="normal" textLength="34.90" lengthAdjust="spacingAndGlyphs" stroke="#262626" stroke-width="0.15">NES: 1.88</text>
<text x="332.80" y="310.86" font-size="8.5" text-anchor="start" fill="#262626" font-weight="normal" textLength="44.40" lengthAdjust="spacingAndGlyphs" stroke="#262626" stroke-width="0.15">NPV: &lt;0.001</text>
<rect x="276.20" y="339.50" width="105.60" height="14.10" fill="#ffffff"/>
<rect x="276.80" y="339.50" width="4.20" height="14.10" fill="rgb(15,15,15)"/>
<rect x="281.00" y="339.50" width="2.10" height="14.10" fill="rgb(119,119,119)"/>
<rect x="283.10" y="339.50" width="2.70" height="14.10" fill="rgb(15,15,15)"/>
<rect x="285.80" y="339.50" width="2.00" height="14.10" fill="rgb(119,119,119)"/>
<rect x="287.80" y="339.50" width="1.60" height="14.10" fill="rgb(67,67,67)"/>
<rect x="289.40" y="339.50" width="2.70" height="14.10" fill="rgb(119,119,119)"/>
<rect x="292.10" y="339.50" width="4.20" height="14.10" fill="rgb(15,15,15)"/>
<rect x="296.30" y="339.50" width="2.20" height="14.10" fill="rgb(171,171,171)"/>
<rect x="298.50" y="339.50" width="2.10" height="14.10" fill="rgb(93,93,93)"/>
<rect x="300.60" y="339.50" width="3.10" height="14.10" fill="rgb(119,119,119)"/>
<rect x="303.70" y="339.50" width="1.60" height="14.10" fill="rgb(197,197,197)"/>
<rect x="305.30" y="339.50" width="3.70" height="14.10" fill="rgb(41,41,41)"/>
<rect x="309.00" y="339.50" width="2.20" height="14.10" fill="rgb(119,119,119)"/>
<rect x="311.20" y="339.50" width="2.10" height="14.10" fill="rgb(223,223,223)"/>
<rect x="313.30" y="339.50" width="3.10" height="14.10" fill="rgb(119,119,119)"/>
<rect x="319.00" y="339.50" width="1.70" height="14.10" fill="rgb(15,15,15)"/>
<rect x="320.70" y="339.50" width="3.10" height="14.10" fill="rgb(119,119,119)"/>
<rect x="323.80" y="339.50" width="3.40" height="14.10" fill="rgb(93,93,93)"/>
<rect x="327.20" y="339.50" width="1.60" height="14.10" fill="rgb(171,171,171)"/>
<rect x="330.90" y="339.50" width="2.60" height="14.10" fill="rgb(15,15,15)"/>
<rect x="333.50" y="339.50" width="2.10" height="14.10" fill="rgb(93,93,93)"/>
<rect x="335.60" y="339.50" width="4.80" height="14.10" fill="rgb(15,15,15)"/>
<rect x="343.00" y="339.50" width="1.60" height="14.10" fill="rgb(119,119,119)"/>
<rect x="346.20" y="339.50" width="4.30" height="14.10" fill="rgb(41,41,41)"/>
<rect x="350.50" y="339.50" width="2.10" height="14.10" fill="rgb(119,119,119)"/>
<rect x="352.60" y="339.50" width="2.10" height="14.10" fill="rgb(41,41,41)"/>
<rect x="354.70" y="339.50" width="3.20" height="14.10" fill="rgb(171,171,171)"/>
<rect x="357.90" y="339.50" width="4.20" height="14.10" fill="rgb(15,15,15)"/>
<rect x="362.10" y="339.50" width="3.70" height="14.10" fill="rgb(119,119,119)"/>
<rect x="367.90" y="339.50" width="2.70" height="14.10" fill="rgb(145,145,145)"/>
<rect x="372.70" y="339.50" width="1.60" height="14.10" fill="rgb(67,67,67)"/>
<rect x="375.80" y="339.50" width="1.00" height="14.10" fill="rgb(145,145,145)"/>
<defs><linearGradient id="gF" x1="0" x2="1" y1="0" y2="0"><stop offset="0" stop-color="#b42436"/><stop offset="0.30" stop-color="#cc4456"/><stop offset="0.40" stop-color="#e0a0b4"/><stop offset="0.55" stop-color="#ece4f0"/><stop offset="0.68" stop-color="#c8c8f0"/><stop offset="0.80" stop-color="#8484e2"/><stop offset="0.95" stop-color="#3030c8"/><stop offset="1" stop-color="#1810a8"/></linearGradient></defs>
<rect x="276.20" y="353.60" width="100.70" height="3.40" fill="url(#gF)"/>
<text x="276.50" y="362.69" font-size="4.7" text-anchor="start" fill="#a01c3a" font-weight="normal" textLength="58.50" lengthAdjust="spacingAndGlyphs">'na_pos' (positively correlated)</text>
<rect x="276.20" y="363.60" width="105.60" height="23.00" fill="#ffffff"/>
<rect x="276.20" y="363.60" width="105.60" height="23.00" fill="none" stroke="#d8d8d8" stroke-width="0.5"/>
<path d="M276.20 371.40 L276.20 363.70 L277.70 365.60 L281.20 367.00 L291.20 368.10 L311.44 370.00 L326.55 370.90 L335.11 371.40 L348.70 372.40 L361.79 373.70 L369.85 375.20 L374.38 377.00 L376.40 378.90 L376.90 380.40 L376.90 371.40 Z" fill="#c4c4c4"/>
<line x1="276.20" y1="371.40" x2="376.90" y2="371.40" stroke="#999" stroke-width="0.5"/>
<text x="329.07" y="374.07" font-size="3.8" text-anchor="middle" fill="#333" font-weight="normal" textLength="24.50" lengthAdjust="spacingAndGlyphs">Zero cross at 9989</text>
<text x="375.90" y="384.89" font-size="4.7" text-anchor="end" fill="#2a4a98" font-weight="normal" textLength="58.50" lengthAdjust="spacingAndGlyphs">'na_neg' (negatively correlated)</text>
<rect x="274.00" y="364.60" width="1.30" height="1.20" fill="#999"/>
<rect x="274.00" y="367.80" width="1.30" height="1.20" fill="#999"/>
<rect x="274.00" y="371.00" width="1.30" height="1.20" fill="#999"/>
<rect x="274.00" y="374.20" width="1.30" height="1.20" fill="#999"/>
<rect x="274.00" y="377.40" width="1.30" height="1.20" fill="#999"/>
<rect x="274.00" y="380.60" width="1.30" height="1.20" fill="#999"/>
<rect x="274.00" y="383.80" width="1.30" height="1.20" fill="#999"/>
<text x="269.20" y="373.87" font-size="3.8" text-anchor="middle" fill="#333" font-weight="normal" textLength="34.00" lengthAdjust="spacingAndGlyphs" transform="rotate(-90 269.20 372.50)">Ranked list metric (PreRanked)</text>
<text x="276.50" y="391.04" font-size="4.0" text-anchor="middle" fill="#333" font-weight="normal" textLength="1.60" lengthAdjust="spacingAndGlyphs">0</text>
<text x="292.15" y="391.04" font-size="4.0" text-anchor="middle" fill="#333" font-weight="normal" textLength="7.70" lengthAdjust="spacingAndGlyphs">2,500</text>
<text x="307.81" y="391.04" font-size="4.0" text-anchor="middle" fill="#333" font-weight="normal" textLength="7.70" lengthAdjust="spacingAndGlyphs">5,000</text>
<text x="323.46" y="391.04" font-size="4.0" text-anchor="middle" fill="#333" font-weight="normal" textLength="7.70" lengthAdjust="spacingAndGlyphs">7,500</text>
<text x="339.11" y="391.04" font-size="4.0" text-anchor="middle" fill="#333" font-weight="normal" textLength="9.20" lengthAdjust="spacingAndGlyphs">10,000</text>
<text x="354.76" y="391.04" font-size="4.0" text-anchor="middle" fill="#333" font-weight="normal" textLength="9.20" lengthAdjust="spacingAndGlyphs">12,500</text>
<text x="370.42" y="391.04" font-size="4.0" text-anchor="middle" fill="#333" font-weight="normal" textLength="9.20" lengthAdjust="spacingAndGlyphs">15,000</text>
<text x="326.85" y="395.58" font-size="4.4" text-anchor="middle" fill="#333" font-weight="normal" textLength="29.50" lengthAdjust="spacingAndGlyphs">Rank in ordered dataset</text>
<line x1="267.80" y1="400.30" x2="275.30" y2="400.30" stroke="#9fdd6e" stroke-width="0.8"/>
<text x="276.80" y="401.70" font-size="3.9" text-anchor="start" fill="#333" font-weight="normal" textLength="26.20" lengthAdjust="spacingAndGlyphs">Enrichment profile</text>
<line x1="311.10" y1="400.30" x2="318.60" y2="400.30" stroke="#111" stroke-width="1.3"/>
<text x="319.70" y="401.70" font-size="3.9" text-anchor="start" fill="#333" font-weight="normal" textLength="5.50" lengthAdjust="spacingAndGlyphs">Hits</text>
<line x1="334.80" y1="400.30" x2="338.80" y2="400.30" stroke="#666" stroke-width="0.6"/>
<line x1="339.80" y1="401.20" x2="344.80" y2="401.20" stroke="#666" stroke-width="0.6"/>
<text x="346.00" y="401.70" font-size="3.9" text-anchor="start" fill="#333" font-weight="normal" textLength="31.50" lengthAdjust="spacingAndGlyphs">Ranking metric scores</text>
<text x="0" y="0" font-size="11.68" font-weight="bold" fill="#000" stroke="#000" stroke-width="0.35" transform="translate(390.50 275.12) scale(0.997 1)">G</text>
<rect x="390.80" y="281.00" width="120.50" height="124.30" fill="#eeeeee"/>
<text x="454.40" y="286.70" font-size="5.0" text-anchor="middle" fill="#111" font-weight="normal" textLength="60.20" lengthAdjust="spacingAndGlyphs" font-family="'Liberation Serif', serif" stroke="#111" stroke-width="0.12">Enrichment plot: PU1 TARGETS</text>
<rect x="404.00" y="288.30" width="104.40" height="48.00" fill="#ffffff"/>
<rect x="404.00" y="288.30" width="104.40" height="48.00" fill="none" stroke="#d8d8d8" stroke-width="0.5"/>
<line x1="418.91" y1="288.30" x2="418.91" y2="336.30" stroke="#f4f4f4" stroke-width="0.4"/>
<line x1="433.83" y1="288.30" x2="433.83" y2="336.30" stroke="#f4f4f4" stroke-width="0.4"/>
<line x1="448.74" y1="288.30" x2="448.74" y2="336.30" stroke="#f4f4f4" stroke-width="0.4"/>
<line x1="463.66" y1="288.30" x2="463.66" y2="336.30" stroke="#f4f4f4" stroke-width="0.4"/>
<line x1="478.57" y1="288.30" x2="478.57" y2="336.30" stroke="#f4f4f4" stroke-width="0.4"/>
<line x1="493.49" y1="288.30" x2="493.49" y2="336.30" stroke="#f4f4f4" stroke-width="0.4"/>
<line x1="404.00" y1="297.80" x2="508.40" y2="297.80" stroke="#c8d8c0" stroke-width="0.6"/>
<text x="403.20" y="292.52" font-size="3.1" text-anchor="end" fill="#3a3a3a" font-weight="bold">0.1</text>
<text x="403.20" y="298.97" font-size="3.1" text-anchor="end" fill="#3a3a3a" font-weight="bold">0.0</text>
<text x="403.20" y="305.42" font-size="3.1" text-anchor="end" fill="#3a3a3a" font-weight="bold">-0.1</text>
<text x="403.20" y="311.87" font-size="3.1" text-anchor="end" fill="#3a3a3a" font-weight="bold">-0.2</text>
<text x="403.20" y="318.32" font-size="3.1" text-anchor="end" fill="#3a3a3a" font-weight="bold">-0.3</text>
<text x="403.20" y="324.77" font-size="3.1" text-anchor="end" fill="#3a3a3a" font-weight="bold">-0.4</text>
<text x="403.20" y="331.22" font-size="3.1" text-anchor="end" fill="#3a3a3a" font-weight="bold">-0.5</text>
<text x="394.40" y="313.67" font-size="3.8" text-anchor="middle" fill="#333" font-weight="normal" textLength="38.40" lengthAdjust="spacingAndGlyphs" transform="rotate(-90 394.40 312.30)">Enrichment score (ES)</text>
<path d="M404.50 291.50 L405.20 289.80 L405.90 289.10 L406.80 290.50 L407.80 292.00 L408.80 291.60 L409.70 291.20 L412.00 292.60 L415.40 294.60 L419.00 296.20 L423.00 297.80 L427.00 299.30 L431.90 301.00 L437.00 303.60 L443.30 307.30 L450.00 311.70 L456.00 316.20 L462.70 319.30 L469.00 322.80 L475.40 326.30 L480.00 328.40 L485.50 330.10 L489.00 331.40 L493.10 332.70 L495.00 331.40 L496.80 329.50 L498.20 327.00 L500.80 321.90 L502.00 320.60 L502.80 316.00 L503.30 309.20 L503.60 303.00 L503.90 297.80 L508.20 297.80" fill="none" stroke="#9fdd6e" stroke-width="1.5" stroke-linejoin="round" stroke-linecap="round"/>
<text x="461.70" y="300.86" font-size="8.5" text-anchor="start" fill="#262626" font-weight="normal" textLength="37.50" lengthAdjust="spacingAndGlyphs" stroke="#262626" stroke-width="0.15">NES: -1.82</text>
<text x="461.70" y="310.26" font-size="8.5" text-anchor="start" fill="#262626" font-weight="normal" textLength="39.10" lengthAdjust="spacingAndGlyphs" stroke="#262626" stroke-width="0.15">NPV: 0.001</text>
<rect x="404.00" y="336.00" width="104.40" height="16.00" fill="#ffffff"/>
<rect x="404.40" y="336.00" width="1.10" height="16.00" fill="rgb(93,93,93)"/>
<rect x="408.10" y="336.00" width="0.80" height="16.00" fill="rgb(119,119,119)"/>
<rect x="417.10" y="336.00" width="0.80" height="16.00" fill="rgb(119,119,119)"/>
<rect x="422.90" y="336.00" width="0.80" height="16.00" fill="rgb(119,119,119)"/>
<rect x="428.10" y="336.00" width="0.90" height="16.00" fill="rgb(67,67,67)"/>
<rect x="432.40" y="336.00" width="0.80" height="16.00" fill="rgb(171,171,171)"/>
<rect x="452.50" y="336.00" width="0.80" height="16.00" fill="rgb(119,119,119)"/>
<rect x="458.50" y="336.00" width="0.80" height="16.00" fill="rgb(145,145,145)"/>
<rect x="461.80" y="336.00" width="0.60" height="16.00" fill="rgb(145,145,145)"/>
<rect x="463.70" y="336.00" width="1.00" height="16.00" fill="rgb(93,93,93)"/>
<rect x="470.00" y="336.00" width="0.90" height="16.00" fill="rgb(119,119,119)"/>
<rect x="474.00" y="336.00" width="0.90" height="16.00" fill="rgb(93,93,93)"/>
<rect x="478.10" y="336.00" width="0.90" height="16.00" fill="rgb(119,119,119)"/>
<rect x="484.50" y="336.00" width="0.80" height="16.00" fill="rgb(145,145,145)"/>
<rect x="486.70" y="336.00" width="0.90" height="16.00" fill="rgb(171,171,171)"/>
<rect x="493.10" y="336.00" width="0.80" height="16.00" fill="rgb(145,145,145)"/>
<rect x="494.80" y="336.00" width="0.80" height="16.00" fill="rgb(119,119,119)"/>
<rect x="497.20" y="336.00" width="0.70" height="16.00" fill="rgb(93,93,93)"/>
<rect x="498.40" y="336.00" width="0.80" height="16.00" fill="rgb(93,93,93)"/>
<rect x="501.70" y="336.00" width="0.70" height="16.00" fill="rgb(41,41,41)"/>
<rect x="502.60" y="336.00" width="0.70" height="16.00" fill="rgb(15,15,15)"/>
<defs><linearGradient id="gG" x1="0" x2="1" y1="0" y2="0"><stop offset="0" stop-color="#b42436"/><stop offset="0.30" stop-color="#cc4456"/><stop offset="0.40" stop-color="#e0a0b4"/><stop offset="0.55" stop-color="#ece4f0"/><stop offset="0.68" stop-color="#c8c8f0"/><stop offset="0.80" stop-color="#8484e2"/><stop offset="0.95" stop-color="#3030c8"/><stop offset="1" stop-color="#1810a8"/></linearGradient></defs>
<rect x="404.00" y="352.00" width="99.90" height="3.40" fill="url(#gG)"/>
<text x="404.30" y="362.69" font-size="4.7" text-anchor="start" fill="#a01c3a" font-weight="normal" textLength="58.50" lengthAdjust="spacingAndGlyphs">'na_pos' (positively correlated)</text>
<rect x="404.00" y="363.60" width="104.40" height="23.00" fill="#ffffff"/>
<rect x="404.00" y="363.60" width="104.40" height="23.00" fill="none" stroke="#d8d8d8" stroke-width="0.5"/>
<path d="M404.00 371.40 L404.00 363.70 L405.50 365.60 L409.00 367.00 L419.00 368.10 L438.96 370.00 L453.95 370.90 L462.44 371.40 L475.93 372.40 L488.91 373.70 L496.91 375.20 L501.40 377.00 L503.40 378.90 L503.90 379.90 L503.90 371.40 Z" fill="#c4c4c4"/>
<line x1="404.00" y1="371.40" x2="503.90" y2="371.40" stroke="#999" stroke-width="0.5"/>
<text x="456.45" y="374.07" font-size="3.8" text-anchor="middle" fill="#333" font-weight="normal" textLength="24.50" lengthAdjust="spacingAndGlyphs">Zero cross at 9989</text>
<text x="502.90" y="384.89" font-size="4.7" text-anchor="end" fill="#2a4a98" font-weight="normal" textLength="58.50" lengthAdjust="spacingAndGlyphs">'na_neg' (negatively correlated)</text>
<rect x="401.80" y="364.60" width="1.30" height="1.20" fill="#999"/>
<rect x="401.80" y="367.80" width="1.30" height="1.20" fill="#999"/>
<rect x="401.80" y="371.00" width="1.30" height="1.20" fill="#999"/>
<rect x="401.80" y="374.20" width="1.30" height="1.20" fill="#999"/>
<rect x="401.80" y="377.40" width="1.30" height="1.20" fill="#999"/>
<rect x="401.80" y="380.60" width="1.30" height="1.20" fill="#999"/>
<rect x="401.80" y="383.80" width="1.30" height="1.20" fill="#999"/>
<text x="397.20" y="373.87" font-size="3.8" text-anchor="middle" fill="#333" font-weight="normal" textLength="34.00" lengthAdjust="spacingAndGlyphs" transform="rotate(-90 397.20 372.50)">Ranked list metric (PreRanked)</text>
<text x="404.30" y="391.04" font-size="4.0" text-anchor="middle" fill="#333" font-weight="normal" textLength="1.60" lengthAdjust="spacingAndGlyphs">0</text>
<text x="419.83" y="391.04" font-size="4.0" text-anchor="middle" fill="#333" font-weight="normal" textLength="7.70" lengthAdjust="spacingAndGlyphs">2,500</text>
<text x="435.36" y="391.04" font-size="4.0" text-anchor="middle" fill="#333" font-weight="normal" textLength="7.70" lengthAdjust="spacingAndGlyphs">5,000</text>
<text x="450.89" y="391.04" font-size="4.0" text-anchor="middle" fill="#333" font-weight="normal" textLength="7.70" lengthAdjust="spacingAndGlyphs">7,500</text>
<text x="466.41" y="391.04" font-size="4.0" text-anchor="middle" fill="#333" font-weight="normal" textLength="9.20" lengthAdjust="spacingAndGlyphs">10,000</text>
<text x="481.94" y="391.04" font-size="4.0" text-anchor="middle" fill="#333" font-weight="normal" textLength="9.20" lengthAdjust="spacingAndGlyphs">12,500</text>
<text x="497.47" y="391.04" font-size="4.0" text-anchor="middle" fill="#333" font-weight="normal" textLength="9.20" lengthAdjust="spacingAndGlyphs">15,000</text>
<text x="454.25" y="395.58" font-size="4.4" text-anchor="middle" fill="#333" font-weight="normal" textLength="29.50" lengthAdjust="spacingAndGlyphs">Rank in ordered dataset</text>
<line x1="395.80" y1="400.30" x2="403.30" y2="400.30" stroke="#9fdd6e" stroke-width="0.8"/>
<text x="404.80" y="401.70" font-size="3.9" text-anchor="start" fill="#333" font-weight="normal" textLength="26.20" lengthAdjust="spacingAndGlyphs">Enrichment profile</text>
<line x1="439.10" y1="400.30" x2="446.60" y2="400.30" stroke="#111" stroke-width="1.3"/>
<text x="447.70" y="401.70" font-size="3.9" text-anchor="start" fill="#333" font-weight="normal" textLength="5.50" lengthAdjust="spacingAndGlyphs">Hits</text>
<line x1="462.80" y1="400.30" x2="466.80" y2="400.30" stroke="#666" stroke-width="0.6"/>
<line x1="467.80" y1="401.20" x2="472.80" y2="401.20" stroke="#666" stroke-width="0.6"/>
<text x="474.00" y="401.70" font-size="3.9" text-anchor="start" fill="#333" font-weight="normal" textLength="31.50" lengthAdjust="spacingAndGlyphs">Ranking metric scores</text>
<text x="0" y="0" font-size="11.56" font-weight="bold" fill="#000" stroke="#000" stroke-width="0.34" transform="translate(56.28 420.62) scale(1.025 1)">H</text>
<rect x="94.60" y="426.60" width="6.31" height="27.30" fill="#8c8c20"/>
<rect x="100.56" y="426.60" width="6.31" height="27.30" fill="#c8c82c"/>
<rect x="106.51" y="426.60" width="6.31" height="27.30" fill="#4a4a13"/>
<rect x="112.47" y="426.60" width="6.31" height="27.30" fill="#e0e033"/>
<rect x="118.43" y="426.60" width="6.31" height="27.30" fill="#d8d833"/>
<rect x="124.38" y="426.60" width="6.31" height="27.30" fill="#b0b026"/>
<rect x="130.34" y="426.60" width="6.31" height="27.30" fill="#302c10"/>
<rect x="136.29" y="426.60" width="6.31" height="27.30" fill="#d8d833"/>
<rect x="142.25" y="426.60" width="6.31" height="27.30" fill="#d8d833"/>
<rect x="148.21" y="426.60" width="6.31" height="27.30" fill="#6a6a19"/>
<rect x="154.16" y="426.60" width="6.31" height="27.30" fill="#f0f033"/>
<rect x="160.12" y="426.60" width="6.31" height="27.30" fill="#ecec33"/>
<rect x="166.08" y="426.60" width="6.31" height="27.30" fill="#e0e033"/>
<rect x="172.03" y="426.60" width="6.31" height="27.30" fill="#a8a826"/>
<rect x="177.99" y="426.60" width="6.31" height="27.30" fill="#2838e0"/>
<rect x="183.95" y="426.60" width="6.31" height="27.30" fill="#2838e0"/>
<rect x="189.90" y="426.60" width="6.31" height="27.30" fill="#b8b82c"/>
<rect x="195.86" y="426.60" width="6.31" height="27.30" fill="#a8a826"/>
<rect x="201.81" y="426.60" width="6.31" height="27.30" fill="#a8a826"/>
<rect x="207.77" y="426.60" width="6.31" height="27.30" fill="#2030c8"/>
<rect x="213.73" y="426.60" width="6.31" height="27.30" fill="#a0a026"/>
<rect x="219.68" y="426.60" width="6.31" height="27.30" fill="#1c2cb8"/>
<rect x="225.64" y="426.60" width="6.31" height="27.30" fill="#c8c82c"/>
<rect x="231.60" y="426.60" width="6.31" height="27.30" fill="#c8c82c"/>
<rect x="237.55" y="426.60" width="6.31" height="27.30" fill="#1c2cb0"/>
<rect x="243.51" y="426.60" width="6.31" height="27.30" fill="#1a2898"/>
<rect x="249.47" y="426.60" width="6.31" height="27.30" fill="#101868"/>
<rect x="255.42" y="426.60" width="6.31" height="27.30" fill="#1a2aa0"/>
<rect x="261.38" y="426.60" width="6.31" height="27.30" fill="#2838e8"/>
<rect x="267.33" y="426.60" width="6.31" height="27.30" fill="#2838e8"/>
<rect x="273.29" y="426.60" width="6.31" height="27.30" fill="#2838e0"/>
<rect x="279.25" y="426.60" width="6.31" height="27.30" fill="#121c78"/>
<rect x="285.20" y="426.60" width="6.31" height="27.30" fill="#2030c0"/>
<rect x="291.16" y="426.60" width="6.31" height="27.30" fill="#0c1450"/>
<rect x="297.12" y="426.60" width="6.31" height="27.30" fill="#2434d0"/>
<rect x="303.07" y="426.60" width="6.31" height="27.30" fill="#2838e0"/>
<rect x="309.03" y="426.60" width="6.31" height="27.30" fill="#1a2898"/>
<rect x="314.99" y="426.60" width="6.31" height="27.30" fill="#1a2890"/>
<rect x="320.94" y="426.60" width="6.31" height="27.30" fill="#1c2cb0"/>
<rect x="326.90" y="426.60" width="6.31" height="27.30" fill="#2030c0"/>
<rect x="332.85" y="426.60" width="6.31" height="27.30" fill="#2434d8"/>
<rect x="338.81" y="426.60" width="6.31" height="27.30" fill="#2838e0"/>
<rect x="344.77" y="426.60" width="6.31" height="27.30" fill="#1a2898"/>
<rect x="350.72" y="426.60" width="6.31" height="27.30" fill="#2030c0"/>
<rect x="356.68" y="426.60" width="6.31" height="27.30" fill="#1a28a0"/>
<rect x="362.64" y="426.60" width="6.31" height="27.30" fill="#1c2cb0"/>
<rect x="368.59" y="426.60" width="6.31" height="27.30" fill="#1c2cb0"/>
<rect x="374.55" y="426.60" width="6.31" height="27.30" fill="#1a2898"/>
<rect x="380.51" y="426.60" width="6.31" height="27.30" fill="#2030c8"/>
<rect x="386.46" y="426.60" width="6.31" height="27.30" fill="#2030c8"/>
<rect x="392.42" y="426.60" width="6.31" height="27.30" fill="#2030c0"/>
<rect x="398.37" y="426.60" width="6.31" height="27.30" fill="#1c2cb8"/>
<rect x="404.33" y="426.60" width="6.31" height="27.30" fill="#2030c0"/>
<rect x="410.29" y="426.60" width="6.31" height="27.30" fill="#1c2cb8"/>
<rect x="416.24" y="426.60" width="6.31" height="27.30" fill="#1a2aa0"/>
<rect x="94.60" y="453.60" width="6.31" height="27.40" fill="#a8a826"/>
<rect x="100.56" y="453.60" width="6.31" height="27.40" fill="#505013"/>
<rect x="106.51" y="453.60" width="6.31" height="27.40" fill="#e0e033"/>
<rect x="112.47" y="453.60" width="6.31" height="27.40" fill="#050510"/>
<rect x="118.43" y="453.60" width="6.31" height="27.40" fill="#3a3a13"/>
<rect x="124.38" y="453.60" width="6.31" height="27.40" fill="#000000"/>
<rect x="130.34" y="453.60" width="6.31" height="27.40" fill="#a0a026"/>
<rect x="136.29" y="453.60" width="6.31" height="27.40" fill="#1a2888"/>
<rect x="142.25" y="453.60" width="6.31" height="27.40" fill="#141c70"/>
<rect x="148.21" y="453.60" width="6.31" height="27.40" fill="#d8d833"/>
<rect x="154.16" y="453.60" width="6.31" height="27.40" fill="#141e80"/>
<rect x="160.12" y="453.60" width="6.31" height="27.40" fill="#2030c0"/>
<rect x="166.08" y="453.60" width="6.31" height="27.40" fill="#1c2cb0"/>
<rect x="172.03" y="453.60" width="6.31" height="27.40" fill="#6a6a19"/>
<rect x="177.99" y="453.60" width="6.31" height="27.40" fill="#e0e033"/>
<rect x="183.95" y="453.60" width="6.31" height="27.40" fill="#c8c82c"/>
<rect x="189.90" y="453.60" width="6.31" height="27.40" fill="#2838e0"/>
<rect x="195.86" y="453.60" width="6.31" height="27.40" fill="#2434d0"/>
<rect x="201.81" y="453.60" width="6.31" height="27.40" fill="#2838e0"/>
<rect x="207.77" y="453.60" width="6.31" height="27.40" fill="#707020"/>
<rect x="213.73" y="453.60" width="6.31" height="27.40" fill="#2838e8"/>
<rect x="219.68" y="453.60" width="6.31" height="27.40" fill="#0c1238"/>
<rect x="225.64" y="453.60" width="6.31" height="27.40" fill="#2838e0"/>
<rect x="231.60" y="453.60" width="6.31" height="27.40" fill="#2434d0"/>
<rect x="237.55" y="453.60" width="6.31" height="27.40" fill="#2030c0"/>
<rect x="243.51" y="453.60" width="6.31" height="27.40" fill="#080810"/>
<rect x="249.47" y="453.60" width="6.31" height="27.40" fill="#2434d0"/>
<rect x="255.42" y="453.60" width="6.31" height="27.40" fill="#1a2890"/>
<rect x="261.38" y="453.60" width="6.31" height="27.40" fill="#505013"/>
<rect x="267.33" y="453.60" width="6.31" height="27.40" fill="#050505"/>
<rect x="273.29" y="453.60" width="6.31" height="27.40" fill="#7a7a20"/>
<rect x="279.25" y="453.60" width="6.31" height="27.40" fill="#2434d0"/>
<rect x="285.20" y="453.60" width="6.31" height="27.40" fill="#1a2898"/>
<rect x="291.16" y="453.60" width="6.31" height="27.40" fill="#2434c8"/>
<rect x="297.12" y="453.60" width="6.31" height="27.40" fill="#141c70"/>
<rect x="303.07" y="453.60" width="6.31" height="27.40" fill="#0c1450"/>
<rect x="309.03" y="453.60" width="6.31" height="27.40" fill="#2030c0"/>
<rect x="314.99" y="453.60" width="6.31" height="27.40" fill="#1a2898"/>
<rect x="320.94" y="453.60" width="6.31" height="27.40" fill="#18248a"/>
<rect x="326.90" y="453.60" width="6.31" height="27.40" fill="#18268c"/>
<rect x="332.85" y="453.60" width="6.31" height="27.40" fill="#050510"/>
<rect x="338.81" y="453.60" width="6.31" height="27.40" fill="#1a2898"/>
<rect x="344.77" y="453.60" width="6.31" height="27.40" fill="#18248a"/>
<rect x="350.72" y="453.60" width="6.31" height="27.40" fill="#1c2ca8"/>
<rect x="356.68" y="453.60" width="6.31" height="27.40" fill="#18248a"/>
<rect x="362.64" y="453.60" width="6.31" height="27.40" fill="#0c1448"/>
<rect x="368.59" y="453.60" width="6.31" height="27.40" fill="#18248a"/>
<rect x="374.55" y="453.60" width="6.31" height="27.40" fill="#1a2898"/>
<rect x="380.51" y="453.60" width="6.31" height="27.40" fill="#1a2898"/>
<rect x="386.46" y="453.60" width="6.31" height="27.40" fill="#101a70"/>
<rect x="392.42" y="453.60" width="6.31" height="27.40" fill="#141c78"/>
<rect x="398.37" y="453.60" width="6.31" height="27.40" fill="#18248a"/>
<rect x="404.33" y="453.60" width="6.31" height="27.40" fill="#141c78"/>
<rect x="410.29" y="453.60" width="6.31" height="27.40" fill="#18248a"/>
<rect x="416.24" y="453.60" width="6.31" height="27.40" fill="#1a2898"/>
<rect x="94.60" y="480.70" width="6.31" height="27.60" fill="#2838e0"/>
<rect x="100.56" y="480.70" width="6.31" height="27.60" fill="#2838d8"/>
<rect x="106.51" y="480.70" width="6.31" height="27.60" fill="#2030c8"/>
<rect x="112.47" y="480.70" width="6.31" height="27.60" fill="#2838e0"/>
<rect x="118.43" y="480.70" width="6.31" height="27.60" fill="#0a1040"/>
<rect x="124.38" y="480.70" width="6.31" height="27.60" fill="#2840f0"/>
<rect x="130.34" y="480.70" width="6.31" height="27.60" fill="#6a6a19"/>
<rect x="136.29" y="480.70" width="6.31" height="27.60" fill="#2838d8"/>
<rect x="142.25" y="480.70" width="6.31" height="27.60" fill="#2434d0"/>
<rect x="148.21" y="480.70" width="6.31" height="27.60" fill="#2030c0"/>
<rect x="154.16" y="480.70" width="6.31" height="27.60" fill="#2434d0"/>
<rect x="160.12" y="480.70" width="6.31" height="27.60" fill="#0c1448"/>
<rect x="166.08" y="480.70" width="6.31" height="27.60" fill="#141e80"/>
<rect x="172.03" y="480.70" width="6.31" height="27.60" fill="#2838e0"/>
<rect x="177.99" y="480.70" width="6.31" height="27.60" fill="#080808"/>
<rect x="183.95" y="480.70" width="6.31" height="27.60" fill="#0c1030"/>
<rect x="189.90" y="480.70" width="6.31" height="27.60" fill="#7a7a20"/>
<rect x="195.86" y="480.70" width="6.31" height="27.60" fill="#1a2890"/>
<rect x="201.81" y="480.70" width="6.31" height="27.60" fill="#060610"/>
<rect x="207.77" y="480.70" width="6.31" height="27.60" fill="#1a2890"/>
<rect x="213.73" y="480.70" width="6.31" height="27.60" fill="#6a6a19"/>
<rect x="219.68" y="480.70" width="6.31" height="27.60" fill="#f0f033"/>
<rect x="225.64" y="480.70" width="6.31" height="27.60" fill="#141c60"/>
<rect x="231.60" y="480.70" width="6.31" height="27.60" fill="#101858"/>
<rect x="237.55" y="480.70" width="6.31" height="27.60" fill="#b0b026"/>
<rect x="243.51" y="480.70" width="6.31" height="27.60" fill="#1a2890"/>
<rect x="249.47" y="480.70" width="6.31" height="27.60" fill="#8a8a20"/>
<rect x="255.42" y="480.70" width="6.31" height="27.60" fill="#f0f033"/>
<rect x="261.38" y="480.70" width="6.31" height="27.60" fill="#101010"/>
<rect x="267.33" y="480.70" width="6.31" height="27.60" fill="#a8a826"/>
<rect x="273.29" y="480.70" width="6.31" height="27.60" fill="#8a8a20"/>
<rect x="279.25" y="480.70" width="6.31" height="27.60" fill="#5a5a19"/>
<rect x="285.20" y="480.70" width="6.31" height="27.60" fill="#d8d833"/>
<rect x="291.16" y="480.70" width="6.31" height="27.60" fill="#d0d033"/>
<rect x="297.12" y="480.70" width="6.31" height="27.60" fill="#050510"/>
<rect x="303.07" y="480.70" width="6.31" height="27.60" fill="#d8d833"/>
<rect x="309.03" y="480.70" width="6.31" height="27.60" fill="#d0d033"/>
<rect x="314.99" y="480.70" width="6.31" height="27.60" fill="#5a5a19"/>
<rect x="320.94" y="480.70" width="6.31" height="27.60" fill="#707020"/>
<rect x="326.90" y="480.70" width="6.31" height="27.60" fill="#c8c82c"/>
<rect x="332.85" y="480.70" width="6.31" height="27.60" fill="#d0d033"/>
<rect x="338.81" y="480.70" width="6.31" height="27.60" fill="#c0c02c"/>
<rect x="344.77" y="480.70" width="6.31" height="27.60" fill="#c0c02c"/>
<rect x="350.72" y="480.70" width="6.31" height="27.60" fill="#c0c02c"/>
<rect x="356.68" y="480.70" width="6.31" height="27.60" fill="#c8c82c"/>
<rect x="362.64" y="480.70" width="6.31" height="27.60" fill="#e0e033"/>
<rect x="368.59" y="480.70" width="6.31" height="27.60" fill="#c8c82c"/>
<rect x="374.55" y="480.70" width="6.31" height="27.60" fill="#c0c02c"/>
<rect x="380.51" y="480.70" width="6.31" height="27.60" fill="#c8c82c"/>
<rect x="386.46" y="480.70" width="6.31" height="27.60" fill="#a8a826"/>
<rect x="392.42" y="480.70" width="6.31" height="27.60" fill="#e0e033"/>
<rect x="398.37" y="480.70" width="6.31" height="27.60" fill="#8a8a20"/>
<rect x="404.33" y="480.70" width="6.31" height="27.60" fill="#8a8a20"/>
<rect x="410.29" y="480.70" width="6.31" height="27.60" fill="#505013"/>
<rect x="416.24" y="480.70" width="6.31" height="27.60" fill="#b0b026"/>
<rect x="94.60" y="508.00" width="6.31" height="27.30" fill="#0c1240"/>
<rect x="100.56" y="508.00" width="6.31" height="27.30" fill="#101a60"/>
<rect x="106.51" y="508.00" width="6.31" height="27.30" fill="#18248a"/>
<rect x="112.47" y="508.00" width="6.31" height="27.30" fill="#080c20"/>
<rect x="118.43" y="508.00" width="6.31" height="27.30" fill="#2838e0"/>
<rect x="124.38" y="508.00" width="6.31" height="27.30" fill="#606019"/>
<rect x="130.34" y="508.00" width="6.31" height="27.30" fill="#2840f0"/>
<rect x="136.29" y="508.00" width="6.31" height="27.30" fill="#707020"/>
<rect x="142.25" y="508.00" width="6.31" height="27.30" fill="#505013"/>
<rect x="148.21" y="508.00" width="6.31" height="27.30" fill="#2030c0"/>
<rect x="154.16" y="508.00" width="6.31" height="27.30" fill="#080c28"/>
<rect x="160.12" y="508.00" width="6.31" height="27.30" fill="#0c1440"/>
<rect x="166.08" y="508.00" width="6.31" height="27.30" fill="#606019"/>
<rect x="172.03" y="508.00" width="6.31" height="27.30" fill="#060814"/>
<rect x="177.99" y="508.00" width="6.31" height="27.30" fill="#0c1440"/>
<rect x="183.95" y="508.00" width="6.31" height="27.30" fill="#707020"/>
<rect x="189.90" y="508.00" width="6.31" height="27.30" fill="#101860"/>
<rect x="195.86" y="508.00" width="6.31" height="27.30" fill="#a8a826"/>
<rect x="201.81" y="508.00" width="6.31" height="27.30" fill="#707020"/>
<rect x="207.77" y="508.00" width="6.31" height="27.30" fill="#c8c82c"/>
<rect x="213.73" y="508.00" width="6.31" height="27.30" fill="#302c10"/>
<rect x="219.68" y="508.00" width="6.31" height="27.30" fill="#101850"/>
<rect x="225.64" y="508.00" width="6.31" height="27.30" fill="#a0a026"/>
<rect x="231.60" y="508.00" width="6.31" height="27.30" fill="#8a8a20"/>
<rect x="237.55" y="508.00" width="6.31" height="27.30" fill="#8a8a20"/>
<rect x="243.51" y="508.00" width="6.31" height="27.30" fill="#e8e833"/>
<rect x="249.47" y="508.00" width="6.31" height="27.30" fill="#c8c82c"/>
<rect x="255.42" y="508.00" width="6.31" height="27.30" fill="#080c28"/>
<rect x="261.38" y="508.00" width="6.31" height="27.30" fill="#c8c82c"/>
<rect x="267.33" y="508.00" width="6.31" height="27.30" fill="#707020"/>
<rect x="273.29" y="508.00" width="6.31" height="27.30" fill="#4a4a13"/>
<rect x="279.25" y="508.00" width="6.31" height="27.30" fill="#c8c82c"/>
<rect x="285.20" y="508.00" width="6.31" height="27.30" fill="#8a8a20"/>
<rect x="291.16" y="508.00" width="6.31" height="27.30" fill="#141408"/>
<rect x="297.12" y="508.00" width="6.31" height="27.30" fill="#f0f033"/>
<rect x="303.07" y="508.00" width="6.31" height="27.30" fill="#5a5a19"/>
<rect x="309.03" y="508.00" width="6.31" height="27.30" fill="#3a3a13"/>
<rect x="314.99" y="508.00" width="6.31" height="27.30" fill="#d8d833"/>
<rect x="320.94" y="508.00" width="6.31" height="27.30" fill="#c8c82c"/>
<rect x="326.90" y="508.00" width="6.31" height="27.30" fill="#6a6a19"/>
<rect x="332.85" y="508.00" width="6.31" height="27.30" fill="#4a4a13"/>
<rect x="338.81" y="508.00" width="6.31" height="27.30" fill="#707020"/>
<rect x="344.77" y="508.00" width="6.31" height="27.30" fill="#a0a026"/>
<rect x="350.72" y="508.00" width="6.31" height="27.30" fill="#a0a026"/>
<rect x="356.68" y="508.00" width="6.31" height="27.30" fill="#a0a026"/>
<rect x="362.64" y="508.00" width="6.31" height="27.30" fill="#1a1a08"/>
<rect x="368.59" y="508.00" width="6.31" height="27.30" fill="#a8a826"/>
<rect x="374.55" y="508.00" width="6.31" height="27.30" fill="#a0a026"/>
<rect x="380.51" y="508.00" width="6.31" height="27.30" fill="#6a6a19"/>
<rect x="386.46" y="508.00" width="6.31" height="27.30" fill="#a0a026"/>
<rect x="392.42" y="508.00" width="6.31" height="27.30" fill="#30300c"/>
<rect x="398.37" y="508.00" width="6.31" height="27.30" fill="#c8c82c"/>
<rect x="404.33" y="508.00" width="6.31" height="27.30" fill="#c8c82c"/>
<rect x="410.29" y="508.00" width="6.31" height="27.30" fill="#e0e033"/>
<rect x="416.24" y="508.00" width="6.31" height="27.30" fill="#8a8a20"/>
<text x="74.00" y="447.16" font-size="9.6" text-anchor="middle" fill="#111" font-weight="normal">KMUKO</text>
<text x="74.00" y="470.36" font-size="9.6" text-anchor="middle" fill="#111" font-weight="normal">KMUKO</text>
<text x="74.00" y="498.26" font-size="9.6" text-anchor="middle" fill="#111" font-weight="normal">KM</text>
<text x="74.00" y="521.26" font-size="9.6" text-anchor="middle" fill="#111" font-weight="normal">KM</text>
<text x="99.98" y="575.80" font-size="6.5" fill="#111" stroke="#111" stroke-width="0.12" transform="rotate(-90 99.98 575.80)">TNFRSF11A</text>
<text x="105.93" y="575.80" font-size="6.5" fill="#111" stroke="#111" stroke-width="0.12" transform="rotate(-90 105.93 575.80)">GPR132</text>
<text x="111.89" y="575.80" font-size="6.5" fill="#111" stroke="#111" stroke-width="0.12" transform="rotate(-90 111.89 575.80)">TNFSF10</text>
<text x="117.85" y="575.80" font-size="6.5" fill="#111" stroke="#111" stroke-width="0.12" transform="rotate(-90 117.85 575.80)">IRF4</text>
<text x="123.80" y="575.80" font-size="6.5" fill="#111" stroke="#111" stroke-width="0.12" transform="rotate(-90 123.80 575.80)">LY96</text>
<text x="129.76" y="575.80" font-size="6.5" fill="#111" stroke="#111" stroke-width="0.12" transform="rotate(-90 129.76 575.80)">CIITA</text>
<text x="135.72" y="575.80" font-size="6.5" fill="#111" stroke="#111" stroke-width="0.12" transform="rotate(-90 135.72 575.80)">IL1R1</text>
<text x="141.67" y="575.80" font-size="6.5" fill="#111" stroke="#111" stroke-width="0.12" transform="rotate(-90 141.67 575.80)">FCGR1</text>
<text x="147.63" y="575.80" font-size="6.5" fill="#111" stroke="#111" stroke-width="0.12" transform="rotate(-90 147.63 575.80)">CCL3</text>
<text x="153.59" y="575.80" font-size="6.5" fill="#111" stroke="#111" stroke-width="0.12" transform="rotate(-90 153.59 575.80)">JUNB</text>
<text x="159.54" y="575.80" font-size="6.5" fill="#111" stroke="#111" stroke-width="0.12" transform="rotate(-90 159.54 575.80)">EMR1</text>
<text x="165.50" y="575.80" font-size="6.5" fill="#111" stroke="#111" stroke-width="0.12" transform="rotate(-90 165.50 575.80)">IFIT3</text>
<text x="171.45" y="575.80" font-size="6.5" fill="#111" stroke="#111" stroke-width="0.12" transform="rotate(-90 171.45 575.80)">CD209A</text>
<text x="177.41" y="575.80" font-size="6.5" fill="#111" stroke="#111" stroke-width="0.12" transform="rotate(-90 177.41 575.80)">CDKN2B</text>
<text x="183.37" y="575.80" font-size="6.5" fill="#111" stroke="#111" stroke-width="0.12" transform="rotate(-90 183.37 575.80)">MYB</text>
<text x="189.32" y="575.80" font-size="6.5" fill="#111" stroke="#111" stroke-width="0.12" transform="rotate(-90 189.32 575.80)">ARG1</text>
<text x="195.28" y="575.80" font-size="6.5" fill="#111" stroke="#111" stroke-width="0.12" transform="rotate(-90 195.28 575.80)">TEC</text>
<text x="201.24" y="575.80" font-size="6.5" fill="#111" stroke="#111" stroke-width="0.12" transform="rotate(-90 201.24 575.80)">IL1B</text>
<text x="207.19" y="575.80" font-size="6.5" fill="#111" stroke="#111" stroke-width="0.12" transform="rotate(-90 207.19 575.80)">PLIN2</text>
<text x="213.15" y="575.80" font-size="6.5" fill="#111" stroke="#111" stroke-width="0.12" transform="rotate(-90 213.15 575.80)">TAL1</text>
<text x="219.11" y="575.80" font-size="6.5" fill="#111" stroke="#111" stroke-width="0.12" transform="rotate(-90 219.11 575.80)">IGHMBP2</text>
<text x="225.06" y="575.80" font-size="6.5" fill="#111" stroke="#111" stroke-width="0.12" transform="rotate(-90 225.06 575.80)">LMO2</text>
<text x="231.02" y="575.80" font-size="6.5" fill="#111" stroke="#111" stroke-width="0.12" transform="rotate(-90 231.02 575.80)">TLR4</text>
<text x="236.97" y="575.80" font-size="6.5" fill="#111" stroke="#111" stroke-width="0.12" transform="rotate(-90 236.97 575.80)">ISG15</text>
<text x="242.93" y="575.80" font-size="6.5" fill="#111" stroke="#111" stroke-width="0.12" transform="rotate(-90 242.93 575.80)">FCGR2B</text>
<text x="248.89" y="575.80" font-size="6.5" fill="#111" stroke="#111" stroke-width="0.12" transform="rotate(-90 248.89 575.80)">NF1</text>
<text x="254.84" y="575.80" font-size="6.5" fill="#111" stroke="#111" stroke-width="0.12" transform="rotate(-90 254.84 575.80)">PPARG</text>
<text x="260.80" y="575.80" font-size="6.5" fill="#111" stroke="#111" stroke-width="0.12" transform="rotate(-90 260.80 575.80)">IL3RA</text>
<text x="266.76" y="575.80" font-size="6.5" fill="#111" stroke="#111" stroke-width="0.12" transform="rotate(-90 266.76 575.80)">CD80</text>
<text x="272.71" y="575.80" font-size="6.5" fill="#111" stroke="#111" stroke-width="0.12" transform="rotate(-90 272.71 575.80)">MRC1</text>
<text x="278.67" y="575.80" font-size="6.5" fill="#111" stroke="#111" stroke-width="0.12" transform="rotate(-90 278.67 575.80)">BCL2A1A</text>
<text x="284.63" y="575.80" font-size="6.5" fill="#111" stroke="#111" stroke-width="0.12" transform="rotate(-90 284.63 575.80)">MSR1</text>
<text x="290.58" y="575.80" font-size="6.5" fill="#111" stroke="#111" stroke-width="0.12" transform="rotate(-90 290.58 575.80)">VAV1</text>
<text x="296.54" y="575.80" font-size="6.5" fill="#111" stroke="#111" stroke-width="0.12" transform="rotate(-90 296.54 575.80)">PRG3</text>
<text x="302.49" y="575.80" font-size="6.5" fill="#111" stroke="#111" stroke-width="0.12" transform="rotate(-90 302.49 575.80)">ADAR</text>
<text x="308.45" y="575.80" font-size="6.5" fill="#111" stroke="#111" stroke-width="0.12" transform="rotate(-90 308.45 575.80)">LYL1</text>
<text x="314.41" y="575.80" font-size="6.5" fill="#111" stroke="#111" stroke-width="0.12" transform="rotate(-90 314.41 575.80)">FCGR3</text>
<text x="320.36" y="575.80" font-size="6.5" fill="#111" stroke="#111" stroke-width="0.12" transform="rotate(-90 320.36 575.80)">PTPRC</text>
<text x="326.32" y="575.80" font-size="6.5" fill="#111" stroke="#111" stroke-width="0.12" transform="rotate(-90 326.32 575.80)">CSF2RB</text>
<text x="332.28" y="575.80" font-size="6.5" fill="#111" stroke="#111" stroke-width="0.12" transform="rotate(-90 332.28 575.80)">PTPN6</text>
<text x="338.23" y="575.80" font-size="6.5" fill="#111" stroke="#111" stroke-width="0.12" transform="rotate(-90 338.23 575.80)">CSF2RA</text>
<text x="344.19" y="575.80" font-size="6.5" fill="#111" stroke="#111" stroke-width="0.12" transform="rotate(-90 344.19 575.80)">SPP1</text>
<text x="350.15" y="575.80" font-size="6.5" fill="#111" stroke="#111" stroke-width="0.12" transform="rotate(-90 350.15 575.80)">FES</text>
<text x="356.10" y="575.80" font-size="6.5" fill="#111" stroke="#111" stroke-width="0.12" transform="rotate(-90 356.10 575.80)">NCF2</text>
<text x="362.06" y="575.80" font-size="6.5" fill="#111" stroke="#111" stroke-width="0.12" transform="rotate(-90 362.06 575.80)">CLEC5A</text>
<text x="368.01" y="575.80" font-size="6.5" fill="#111" stroke="#111" stroke-width="0.12" transform="rotate(-90 368.01 575.80)">NCF4</text>
<text x="373.97" y="575.80" font-size="6.5" fill="#111" stroke="#111" stroke-width="0.12" transform="rotate(-90 373.97 575.80)">NCF1</text>
<text x="379.93" y="575.80" font-size="6.5" fill="#111" stroke="#111" stroke-width="0.12" transform="rotate(-90 379.93 575.80)">ITGB2</text>
<text x="385.88" y="575.80" font-size="6.5" fill="#111" stroke="#111" stroke-width="0.12" transform="rotate(-90 385.88 575.80)">TNF</text>
<text x="391.84" y="575.80" font-size="6.5" fill="#111" stroke="#111" stroke-width="0.12" transform="rotate(-90 391.84 575.80)">CSF3R</text>
<text x="397.80" y="575.80" font-size="6.5" fill="#111" stroke="#111" stroke-width="0.12" transform="rotate(-90 397.80 575.80)">OLFM4</text>
<text x="403.75" y="575.80" font-size="6.5" fill="#111" stroke="#111" stroke-width="0.12" transform="rotate(-90 403.75 575.80)">CYBB</text>
<text x="409.71" y="575.80" font-size="6.5" fill="#111" stroke="#111" stroke-width="0.12" transform="rotate(-90 409.71 575.80)">ITGAM</text>
<text x="415.67" y="575.80" font-size="6.5" fill="#111" stroke="#111" stroke-width="0.12" transform="rotate(-90 415.67 575.80)">CD33</text>
<text x="421.62" y="575.80" font-size="6.5" fill="#111" stroke="#111" stroke-width="0.12" transform="rotate(-90 421.62 575.80)">CX3CL1</text>
<defs><linearGradient id="cbar" x1="0" x2="0" y1="0" y2="1"><stop offset="0" stop-color="#e8e040"/><stop offset="0.18" stop-color="#d0c838"/><stop offset="0.45" stop-color="#403c10"/><stop offset="0.52" stop-color="#050508"/><stop offset="0.62" stop-color="#101a60"/><stop offset="1" stop-color="#3040e0"/></linearGradient></defs>
<rect x="72.9" y="538.8" width="6.6" height="36.0" fill="url(#cbar)" stroke="#222" stroke-width="0.6"/>
<text x="86.3" y="543.5" font-size="6.6" fill="#222" transform="rotate(-90 86.3 543.5)">3.4</text>
<text x="86.3" y="580.5" font-size="6.6" fill="#222" transform="rotate(-90 86.3 580.5)">-3.4</text>
<rect x="0.00" y="0.00" width="520.00" height="1.30" fill="#000"/>
<rect x="0.00" y="0.00" width="1.00" height="586.00" fill="#000"/>
<rect x="518.70" y="0.00" width="1.30" height="586.00" fill="#000"/>
<rect x="0.00" y="584.40" width="520.00" height="1.60" fill="#000"/>
</svg>
</body></html>
